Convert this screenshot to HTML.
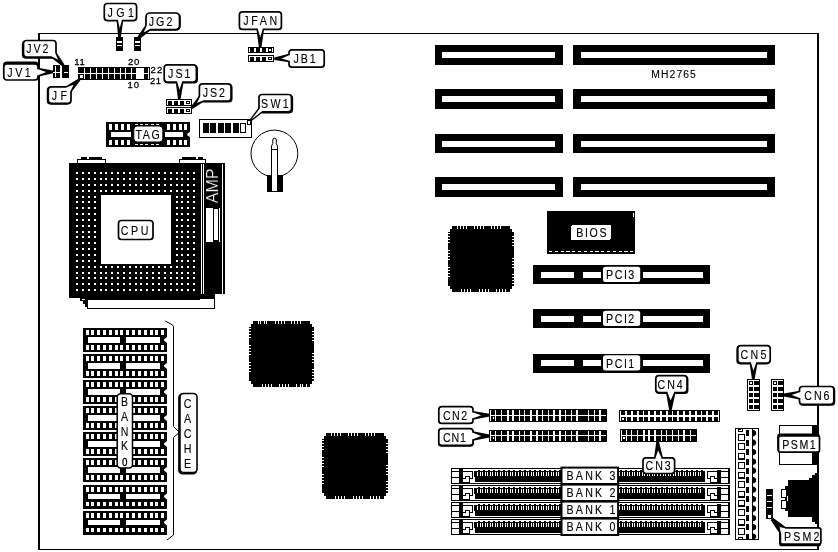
<!DOCTYPE html>
<html><head><meta charset="utf-8"><title>MH2765</title>
<style>
html,body{margin:0;padding:0;background:#fff;}
body{width:838px;height:552px;overflow:hidden;}
svg{display:block;will-change:transform;font-family:"Liberation Sans",sans-serif;}
</style></head><body>
<svg width="838" height="552" viewBox="0 0 838 552" shape-rendering="crispEdges">
<rect x="0" y="0" width="838" height="552" fill="#fff"/>
<rect x="38" y="33" width="781" height="517" fill="#000" />
<rect x="40" y="34" width="777" height="515" fill="#fff" />
<rect x="435" y="45" width="128" height="20" fill="#000" />
<rect x="442" y="52" width="113" height="6" fill="#fff" />
<rect x="573" y="45" width="202" height="20" fill="#000" />
<rect x="581" y="52" width="186" height="6" fill="#fff" />
<rect x="435" y="89" width="128" height="20" fill="#000" />
<rect x="442" y="96" width="113" height="6" fill="#fff" />
<rect x="573" y="89" width="202" height="20" fill="#000" />
<rect x="581" y="96" width="186" height="6" fill="#fff" />
<rect x="435" y="134" width="128" height="19" fill="#000" />
<rect x="442" y="141" width="113" height="6" fill="#fff" />
<rect x="573" y="134" width="202" height="19" fill="#000" />
<rect x="581" y="141" width="186" height="6" fill="#fff" />
<rect x="435" y="177" width="128" height="20" fill="#000" />
<rect x="442" y="184" width="113" height="6" fill="#fff" />
<rect x="573" y="177" width="202" height="20" fill="#000" />
<rect x="581" y="184" width="186" height="6" fill="#fff" />
<text transform="translate(673.6,78.1) scale(0.9,1)" font-size="11.5" text-anchor="middle" textLength="49.44" lengthAdjust="spacing" fill="#000" stroke="#000" stroke-width="0.12" >MH2765</text>
<rect x="533" y="265" width="177" height="19" fill="#000" />
<rect x="541" y="271.5" width="33" height="6" fill="#fff" />
<rect x="583" y="271.5" width="17.6" height="6" fill="#fff" />
<rect x="643" y="271.5" width="60" height="6" fill="#fff" />
<rect x="603" y="266.8" width="37.2" height="15.2" fill="#fff" rx="2.5" shape-rendering="geometricPrecision"/>
<text transform="translate(620.2,279.1) scale(0.82,1)" font-size="13" text-anchor="middle" textLength="34.39" lengthAdjust="spacing" fill="#000" stroke="#000" stroke-width="0.12" >PCI3</text>
<rect x="533" y="309" width="177" height="19" fill="#000" />
<rect x="541" y="315.5" width="33" height="6" fill="#fff" />
<rect x="583" y="315.5" width="17.6" height="6" fill="#fff" />
<rect x="643" y="315.5" width="60" height="6" fill="#fff" />
<rect x="603" y="310.8" width="37.2" height="15.2" fill="#fff" rx="2.5" shape-rendering="geometricPrecision"/>
<text transform="translate(620.2,323.1) scale(0.82,1)" font-size="13" text-anchor="middle" textLength="34.39" lengthAdjust="spacing" fill="#000" stroke="#000" stroke-width="0.12" >PCI2</text>
<rect x="533" y="353.5" width="177" height="19" fill="#000" />
<rect x="541" y="360.0" width="33" height="6" fill="#fff" />
<rect x="583" y="360.0" width="17.6" height="6" fill="#fff" />
<rect x="643" y="360.0" width="60" height="6" fill="#fff" />
<rect x="603" y="355.3" width="37.2" height="15.2" fill="#fff" rx="2.5" shape-rendering="geometricPrecision"/>
<text transform="translate(620.2,367.6) scale(0.82,1)" font-size="13" text-anchor="middle" textLength="34.39" lengthAdjust="spacing" fill="#000" stroke="#000" stroke-width="0.12" >PCI1</text>
<rect x="547" y="211" width="88" height="43" fill="#000" />
<line x1="549" y1="251.5" x2="634" y2="251.5" stroke="#fff" stroke-width="1" stroke-dasharray="3.2,2.6"/>
<rect x="633" y="213" width="1" height="4" fill="#fff" />
<rect x="571" y="225" width="40" height="15" fill="#fff" rx="2" />
<text transform="translate(591.4,237.1) scale(0.82,1)" font-size="13" text-anchor="middle" textLength="37.20" lengthAdjust="spacing" fill="#000" stroke="#000" stroke-width="0.12" >BIOS</text>
<polygon points="452,226 510,226 510,229 512,229 512,232 514,232 514,286 512,286 512,289 510,289 510,292 452,292 452,289 450,289 450,286 448,286 448,232 450,232 450,229 452,229" fill="#000" />
<rect x="457" y="226" width="1" height="3" fill="#fff" />
<rect x="460" y="226" width="1" height="3" fill="#fff" />
<rect x="463" y="226" width="1" height="3" fill="#fff" />
<rect x="466" y="226" width="1" height="3" fill="#fff" />
<rect x="474" y="226" width="1" height="3" fill="#fff" />
<rect x="477" y="226" width="1" height="3" fill="#fff" />
<rect x="480" y="226" width="1" height="3" fill="#fff" />
<rect x="483" y="226" width="1" height="3" fill="#fff" />
<rect x="491" y="226" width="1" height="3" fill="#fff" />
<rect x="494" y="226" width="1" height="3" fill="#fff" />
<rect x="497" y="226" width="1" height="3" fill="#fff" />
<rect x="500" y="226" width="1" height="3" fill="#fff" />
<rect x="461" y="289" width="1" height="3" fill="#fff" />
<rect x="464" y="289" width="1" height="3" fill="#fff" />
<rect x="467" y="289" width="1" height="3" fill="#fff" />
<rect x="470" y="289" width="1" height="3" fill="#fff" />
<rect x="479" y="289" width="1" height="3" fill="#fff" />
<rect x="482" y="289" width="1" height="3" fill="#fff" />
<rect x="485" y="289" width="1" height="3" fill="#fff" />
<rect x="488" y="289" width="1" height="3" fill="#fff" />
<rect x="496" y="289" width="1" height="3" fill="#fff" />
<rect x="499" y="289" width="1" height="3" fill="#fff" />
<rect x="502" y="289" width="1" height="3" fill="#fff" />
<rect x="505" y="289" width="1" height="3" fill="#fff" />
<rect x="448" y="233" width="2" height="1" fill="#fff" />
<rect x="448" y="236" width="2" height="1" fill="#fff" />
<rect x="448" y="239" width="2" height="1" fill="#fff" />
<rect x="448" y="242" width="2" height="1" fill="#fff" />
<rect x="448" y="250" width="2" height="1" fill="#fff" />
<rect x="448" y="253" width="2" height="1" fill="#fff" />
<rect x="448" y="256" width="2" height="1" fill="#fff" />
<rect x="448" y="259" width="2" height="1" fill="#fff" />
<rect x="448" y="267" width="2" height="1" fill="#fff" />
<rect x="448" y="270" width="2" height="1" fill="#fff" />
<rect x="448" y="273" width="2" height="1" fill="#fff" />
<rect x="448" y="276" width="2" height="1" fill="#fff" />
<rect x="512" y="236" width="2" height="1" fill="#fff" />
<rect x="512" y="239" width="2" height="1" fill="#fff" />
<rect x="512" y="242" width="2" height="1" fill="#fff" />
<rect x="512" y="245" width="2" height="1" fill="#fff" />
<rect x="512" y="258" width="2" height="1" fill="#fff" />
<rect x="512" y="261" width="2" height="1" fill="#fff" />
<rect x="512" y="264" width="2" height="1" fill="#fff" />
<rect x="512" y="267" width="2" height="1" fill="#fff" />
<rect x="512" y="274" width="2" height="1" fill="#fff" />
<rect x="512" y="277" width="2" height="1" fill="#fff" />
<rect x="512" y="280" width="2" height="1" fill="#fff" />
<rect x="512" y="283" width="2" height="1" fill="#fff" />
<polygon points="253,321 310,321 310,324 312,324 312,327 314,327 314,381 312,381 312,384 310,384 310,387 253,387 253,384 251,384 251,381 249,381 249,327 251,327 251,324 253,324" fill="#000" />
<rect x="258" y="321" width="1" height="3" fill="#fff" />
<rect x="260" y="321" width="1" height="3" fill="#fff" />
<rect x="264" y="321" width="1" height="3" fill="#fff" />
<rect x="266" y="321" width="1" height="3" fill="#fff" />
<rect x="275" y="321" width="1" height="3" fill="#fff" />
<rect x="278" y="321" width="1" height="3" fill="#fff" />
<rect x="281" y="321" width="1" height="3" fill="#fff" />
<rect x="284" y="321" width="1" height="3" fill="#fff" />
<rect x="291" y="321" width="1" height="3" fill="#fff" />
<rect x="294" y="321" width="1" height="3" fill="#fff" />
<rect x="297" y="321" width="1" height="3" fill="#fff" />
<rect x="300" y="321" width="1" height="3" fill="#fff" />
<rect x="262" y="384" width="1" height="3" fill="#fff" />
<rect x="265" y="384" width="1" height="3" fill="#fff" />
<rect x="268" y="384" width="1" height="3" fill="#fff" />
<rect x="271" y="384" width="1" height="3" fill="#fff" />
<rect x="279" y="384" width="1" height="3" fill="#fff" />
<rect x="282" y="384" width="1" height="3" fill="#fff" />
<rect x="285" y="384" width="1" height="3" fill="#fff" />
<rect x="288" y="384" width="1" height="3" fill="#fff" />
<rect x="296" y="384" width="1" height="3" fill="#fff" />
<rect x="300" y="384" width="1" height="3" fill="#fff" />
<rect x="302" y="384" width="1" height="3" fill="#fff" />
<rect x="306" y="384" width="1" height="3" fill="#fff" />
<rect x="249" y="328" width="2" height="1" fill="#fff" />
<rect x="249" y="331" width="2" height="1" fill="#fff" />
<rect x="249" y="334" width="2" height="1" fill="#fff" />
<rect x="249" y="337" width="2" height="1" fill="#fff" />
<rect x="249" y="345" width="2" height="1" fill="#fff" />
<rect x="249" y="348" width="2" height="1" fill="#fff" />
<rect x="249" y="351" width="2" height="1" fill="#fff" />
<rect x="249" y="354" width="2" height="1" fill="#fff" />
<rect x="249" y="362" width="2" height="1" fill="#fff" />
<rect x="249" y="365" width="2" height="1" fill="#fff" />
<rect x="249" y="368" width="2" height="1" fill="#fff" />
<rect x="249" y="371" width="2" height="1" fill="#fff" />
<rect x="312" y="331" width="2" height="1" fill="#fff" />
<rect x="312" y="334" width="2" height="1" fill="#fff" />
<rect x="312" y="337" width="2" height="1" fill="#fff" />
<rect x="312" y="340" width="2" height="1" fill="#fff" />
<rect x="312" y="353" width="2" height="1" fill="#fff" />
<rect x="312" y="356" width="2" height="1" fill="#fff" />
<rect x="312" y="359" width="2" height="1" fill="#fff" />
<rect x="312" y="362" width="2" height="1" fill="#fff" />
<rect x="312" y="369" width="2" height="1" fill="#fff" />
<rect x="312" y="372" width="2" height="1" fill="#fff" />
<rect x="312" y="375" width="2" height="1" fill="#fff" />
<rect x="312" y="378" width="2" height="1" fill="#fff" />
<polygon points="326,433 384,433 384,436 386,436 386,439 388,439 388,493 386,493 386,496 384,496 384,499 326,499 326,496 324,496 324,493 322,493 322,439 324,439 324,436 326,436" fill="#000" />
<rect x="331" y="433" width="1" height="3" fill="#fff" />
<rect x="334" y="433" width="1" height="3" fill="#fff" />
<rect x="337" y="433" width="1" height="3" fill="#fff" />
<rect x="340" y="433" width="1" height="3" fill="#fff" />
<rect x="348" y="433" width="1" height="3" fill="#fff" />
<rect x="351" y="433" width="1" height="3" fill="#fff" />
<rect x="354" y="433" width="1" height="3" fill="#fff" />
<rect x="357" y="433" width="1" height="3" fill="#fff" />
<rect x="365" y="433" width="1" height="3" fill="#fff" />
<rect x="368" y="433" width="1" height="3" fill="#fff" />
<rect x="371" y="433" width="1" height="3" fill="#fff" />
<rect x="374" y="433" width="1" height="3" fill="#fff" />
<rect x="335" y="496" width="1" height="3" fill="#fff" />
<rect x="338" y="496" width="1" height="3" fill="#fff" />
<rect x="341" y="496" width="1" height="3" fill="#fff" />
<rect x="344" y="496" width="1" height="3" fill="#fff" />
<rect x="353" y="496" width="1" height="3" fill="#fff" />
<rect x="356" y="496" width="1" height="3" fill="#fff" />
<rect x="359" y="496" width="1" height="3" fill="#fff" />
<rect x="362" y="496" width="1" height="3" fill="#fff" />
<rect x="370" y="496" width="1" height="3" fill="#fff" />
<rect x="373" y="496" width="1" height="3" fill="#fff" />
<rect x="376" y="496" width="1" height="3" fill="#fff" />
<rect x="379" y="496" width="1" height="3" fill="#fff" />
<rect x="322" y="440" width="2" height="1" fill="#fff" />
<rect x="322" y="443" width="2" height="1" fill="#fff" />
<rect x="322" y="446" width="2" height="1" fill="#fff" />
<rect x="322" y="449" width="2" height="1" fill="#fff" />
<rect x="322" y="457" width="2" height="1" fill="#fff" />
<rect x="322" y="460" width="2" height="1" fill="#fff" />
<rect x="322" y="463" width="2" height="1" fill="#fff" />
<rect x="322" y="466" width="2" height="1" fill="#fff" />
<rect x="322" y="474" width="2" height="1" fill="#fff" />
<rect x="322" y="477" width="2" height="1" fill="#fff" />
<rect x="322" y="480" width="2" height="1" fill="#fff" />
<rect x="322" y="483" width="2" height="1" fill="#fff" />
<rect x="386" y="443" width="2" height="1" fill="#fff" />
<rect x="386" y="446" width="2" height="1" fill="#fff" />
<rect x="386" y="449" width="2" height="1" fill="#fff" />
<rect x="386" y="452" width="2" height="1" fill="#fff" />
<rect x="386" y="465" width="2" height="1" fill="#fff" />
<rect x="386" y="468" width="2" height="1" fill="#fff" />
<rect x="386" y="471" width="2" height="1" fill="#fff" />
<rect x="386" y="474" width="2" height="1" fill="#fff" />
<rect x="386" y="481" width="2" height="1" fill="#fff" />
<rect x="386" y="484" width="2" height="1" fill="#fff" />
<rect x="386" y="487" width="2" height="1" fill="#fff" />
<rect x="386" y="490" width="2" height="1" fill="#fff" />
<rect x="77.5" y="159.5" width="28" height="4" fill="#fff" stroke="#000" stroke-width="1" />
<rect x="80.5" y="157" width="6.5" height="2" fill="#000" />
<rect x="89" y="157" width="13" height="2" fill="#000" />
<rect x="179.5" y="159.5" width="26" height="4" fill="#fff" stroke="#000" stroke-width="1" />
<rect x="181.5" y="157" width="14" height="2" fill="#000" />
<rect x="197.5" y="157" width="5.5" height="2" fill="#000" />
<rect x="69" y="163" width="131" height="135" fill="#000" />
<rect x="200" y="163" width="24.5" height="131" fill="#000" />
<rect x="200.5" y="164" width="1" height="130" fill="#fff" />
<rect x="203" y="164" width="1" height="130" fill="#fff" />
<rect x="222" y="164" width="1" height="130" fill="#fff" />
<rect x="101" y="195" width="70" height="69" fill="#fff" />
<rect x="76.0" y="172.0" width="2.3" height="2.3" fill="#fff" />
<rect x="82.0" y="172.0" width="2.3" height="2.3" fill="#fff" />
<rect x="87.5" y="172.0" width="2.3" height="2.3" fill="#fff" />
<rect x="93.5" y="172.0" width="2.3" height="2.3" fill="#fff" />
<rect x="99.5" y="172.0" width="2.3" height="2.3" fill="#fff" />
<rect x="105.0" y="172.0" width="2.3" height="2.3" fill="#fff" />
<rect x="111.0" y="172.0" width="2.3" height="2.3" fill="#fff" />
<rect x="117.0" y="172.0" width="2.3" height="2.3" fill="#fff" />
<rect x="122.5" y="172.0" width="2.3" height="2.3" fill="#fff" />
<rect x="128.5" y="172.0" width="2.3" height="2.3" fill="#fff" />
<rect x="134.5" y="172.0" width="2.3" height="2.3" fill="#fff" />
<rect x="140.0" y="172.0" width="2.3" height="2.3" fill="#fff" />
<rect x="146.0" y="172.0" width="2.3" height="2.3" fill="#fff" />
<rect x="152.0" y="172.0" width="2.3" height="2.3" fill="#fff" />
<rect x="158.0" y="172.0" width="2.3" height="2.3" fill="#fff" />
<rect x="163.5" y="172.0" width="2.3" height="2.3" fill="#fff" />
<rect x="169.5" y="172.0" width="2.3" height="2.3" fill="#fff" />
<rect x="175.5" y="172.0" width="2.3" height="2.3" fill="#fff" />
<rect x="181.0" y="172.0" width="2.3" height="2.3" fill="#fff" />
<rect x="187.0" y="172.0" width="2.3" height="2.3" fill="#fff" />
<rect x="193.0" y="172.0" width="2.3" height="2.3" fill="#fff" />
<rect x="76.0" y="178.0" width="2.3" height="2.3" fill="#fff" />
<rect x="82.0" y="178.0" width="2.3" height="2.3" fill="#fff" />
<rect x="87.5" y="178.0" width="2.3" height="2.3" fill="#fff" />
<rect x="93.5" y="178.0" width="2.3" height="2.3" fill="#fff" />
<rect x="99.5" y="178.0" width="2.3" height="2.3" fill="#fff" />
<rect x="105.0" y="178.0" width="2.3" height="2.3" fill="#fff" />
<rect x="111.0" y="178.0" width="2.3" height="2.3" fill="#fff" />
<rect x="117.0" y="178.0" width="2.3" height="2.3" fill="#fff" />
<rect x="122.5" y="178.0" width="2.3" height="2.3" fill="#fff" />
<rect x="128.5" y="178.0" width="2.3" height="2.3" fill="#fff" />
<rect x="134.5" y="178.0" width="2.3" height="2.3" fill="#fff" />
<rect x="140.0" y="178.0" width="2.3" height="2.3" fill="#fff" />
<rect x="146.0" y="178.0" width="2.3" height="2.3" fill="#fff" />
<rect x="152.0" y="178.0" width="2.3" height="2.3" fill="#fff" />
<rect x="158.0" y="178.0" width="2.3" height="2.3" fill="#fff" />
<rect x="163.5" y="178.0" width="2.3" height="2.3" fill="#fff" />
<rect x="169.5" y="178.0" width="2.3" height="2.3" fill="#fff" />
<rect x="175.5" y="178.0" width="2.3" height="2.3" fill="#fff" />
<rect x="181.0" y="178.0" width="2.3" height="2.3" fill="#fff" />
<rect x="187.0" y="178.0" width="2.3" height="2.3" fill="#fff" />
<rect x="193.0" y="178.0" width="2.3" height="2.3" fill="#fff" />
<rect x="76.0" y="183.5" width="2.3" height="2.3" fill="#fff" />
<rect x="82.0" y="183.5" width="2.3" height="2.3" fill="#fff" />
<rect x="87.5" y="183.5" width="2.3" height="2.3" fill="#fff" />
<rect x="93.5" y="183.5" width="2.3" height="2.3" fill="#fff" />
<rect x="99.5" y="183.5" width="2.3" height="2.3" fill="#fff" />
<rect x="105.0" y="183.5" width="2.3" height="2.3" fill="#fff" />
<rect x="111.0" y="183.5" width="2.3" height="2.3" fill="#fff" />
<rect x="117.0" y="183.5" width="2.3" height="2.3" fill="#fff" />
<rect x="122.5" y="183.5" width="2.3" height="2.3" fill="#fff" />
<rect x="128.5" y="183.5" width="2.3" height="2.3" fill="#fff" />
<rect x="134.5" y="183.5" width="2.3" height="2.3" fill="#fff" />
<rect x="140.0" y="183.5" width="2.3" height="2.3" fill="#fff" />
<rect x="146.0" y="183.5" width="2.3" height="2.3" fill="#fff" />
<rect x="152.0" y="183.5" width="2.3" height="2.3" fill="#fff" />
<rect x="158.0" y="183.5" width="2.3" height="2.3" fill="#fff" />
<rect x="163.5" y="183.5" width="2.3" height="2.3" fill="#fff" />
<rect x="169.5" y="183.5" width="2.3" height="2.3" fill="#fff" />
<rect x="175.5" y="183.5" width="2.3" height="2.3" fill="#fff" />
<rect x="181.0" y="183.5" width="2.3" height="2.3" fill="#fff" />
<rect x="187.0" y="183.5" width="2.3" height="2.3" fill="#fff" />
<rect x="193.0" y="183.5" width="2.3" height="2.3" fill="#fff" />
<rect x="76.0" y="189.5" width="2.3" height="2.3" fill="#fff" />
<rect x="82.0" y="189.5" width="2.3" height="2.3" fill="#fff" />
<rect x="87.5" y="189.5" width="2.3" height="2.3" fill="#fff" />
<rect x="93.5" y="189.5" width="2.3" height="2.3" fill="#fff" />
<rect x="99.5" y="189.5" width="2.3" height="2.3" fill="#fff" />
<rect x="105.0" y="189.5" width="2.3" height="2.3" fill="#fff" />
<rect x="111.0" y="189.5" width="2.3" height="2.3" fill="#fff" />
<rect x="117.0" y="189.5" width="2.3" height="2.3" fill="#fff" />
<rect x="122.5" y="189.5" width="2.3" height="2.3" fill="#fff" />
<rect x="128.5" y="189.5" width="2.3" height="2.3" fill="#fff" />
<rect x="134.5" y="189.5" width="2.3" height="2.3" fill="#fff" />
<rect x="140.0" y="189.5" width="2.3" height="2.3" fill="#fff" />
<rect x="146.0" y="189.5" width="2.3" height="2.3" fill="#fff" />
<rect x="152.0" y="189.5" width="2.3" height="2.3" fill="#fff" />
<rect x="158.0" y="189.5" width="2.3" height="2.3" fill="#fff" />
<rect x="163.5" y="189.5" width="2.3" height="2.3" fill="#fff" />
<rect x="169.5" y="189.5" width="2.3" height="2.3" fill="#fff" />
<rect x="175.5" y="189.5" width="2.3" height="2.3" fill="#fff" />
<rect x="181.0" y="189.5" width="2.3" height="2.3" fill="#fff" />
<rect x="187.0" y="189.5" width="2.3" height="2.3" fill="#fff" />
<rect x="193.0" y="189.5" width="2.3" height="2.3" fill="#fff" />
<rect x="76.0" y="195.5" width="2.3" height="2.3" fill="#fff" />
<rect x="82.0" y="195.5" width="2.3" height="2.3" fill="#fff" />
<rect x="87.5" y="195.5" width="2.3" height="2.3" fill="#fff" />
<rect x="93.5" y="195.5" width="2.3" height="2.3" fill="#fff" />
<rect x="175.5" y="195.5" width="2.3" height="2.3" fill="#fff" />
<rect x="181.0" y="195.5" width="2.3" height="2.3" fill="#fff" />
<rect x="187.0" y="195.5" width="2.3" height="2.3" fill="#fff" />
<rect x="193.0" y="195.5" width="2.3" height="2.3" fill="#fff" />
<rect x="76.0" y="201.0" width="2.3" height="2.3" fill="#fff" />
<rect x="82.0" y="201.0" width="2.3" height="2.3" fill="#fff" />
<rect x="87.5" y="201.0" width="2.3" height="2.3" fill="#fff" />
<rect x="93.5" y="201.0" width="2.3" height="2.3" fill="#fff" />
<rect x="175.5" y="201.0" width="2.3" height="2.3" fill="#fff" />
<rect x="181.0" y="201.0" width="2.3" height="2.3" fill="#fff" />
<rect x="187.0" y="201.0" width="2.3" height="2.3" fill="#fff" />
<rect x="193.0" y="201.0" width="2.3" height="2.3" fill="#fff" />
<rect x="76.0" y="207.0" width="2.3" height="2.3" fill="#fff" />
<rect x="82.0" y="207.0" width="2.3" height="2.3" fill="#fff" />
<rect x="87.5" y="207.0" width="2.3" height="2.3" fill="#fff" />
<rect x="93.5" y="207.0" width="2.3" height="2.3" fill="#fff" />
<rect x="175.5" y="207.0" width="2.3" height="2.3" fill="#fff" />
<rect x="181.0" y="207.0" width="2.3" height="2.3" fill="#fff" />
<rect x="187.0" y="207.0" width="2.3" height="2.3" fill="#fff" />
<rect x="193.0" y="207.0" width="2.3" height="2.3" fill="#fff" />
<rect x="76.0" y="213.0" width="2.3" height="2.3" fill="#fff" />
<rect x="82.0" y="213.0" width="2.3" height="2.3" fill="#fff" />
<rect x="87.5" y="213.0" width="2.3" height="2.3" fill="#fff" />
<rect x="93.5" y="213.0" width="2.3" height="2.3" fill="#fff" />
<rect x="175.5" y="213.0" width="2.3" height="2.3" fill="#fff" />
<rect x="181.0" y="213.0" width="2.3" height="2.3" fill="#fff" />
<rect x="187.0" y="213.0" width="2.3" height="2.3" fill="#fff" />
<rect x="193.0" y="213.0" width="2.3" height="2.3" fill="#fff" />
<rect x="76.0" y="218.5" width="2.3" height="2.3" fill="#fff" />
<rect x="82.0" y="218.5" width="2.3" height="2.3" fill="#fff" />
<rect x="87.5" y="218.5" width="2.3" height="2.3" fill="#fff" />
<rect x="93.5" y="218.5" width="2.3" height="2.3" fill="#fff" />
<rect x="175.5" y="218.5" width="2.3" height="2.3" fill="#fff" />
<rect x="181.0" y="218.5" width="2.3" height="2.3" fill="#fff" />
<rect x="187.0" y="218.5" width="2.3" height="2.3" fill="#fff" />
<rect x="193.0" y="218.5" width="2.3" height="2.3" fill="#fff" />
<rect x="76.0" y="224.5" width="2.3" height="2.3" fill="#fff" />
<rect x="82.0" y="224.5" width="2.3" height="2.3" fill="#fff" />
<rect x="87.5" y="224.5" width="2.3" height="2.3" fill="#fff" />
<rect x="93.5" y="224.5" width="2.3" height="2.3" fill="#fff" />
<rect x="175.5" y="224.5" width="2.3" height="2.3" fill="#fff" />
<rect x="181.0" y="224.5" width="2.3" height="2.3" fill="#fff" />
<rect x="187.0" y="224.5" width="2.3" height="2.3" fill="#fff" />
<rect x="193.0" y="224.5" width="2.3" height="2.3" fill="#fff" />
<rect x="76.0" y="230.5" width="2.3" height="2.3" fill="#fff" />
<rect x="82.0" y="230.5" width="2.3" height="2.3" fill="#fff" />
<rect x="87.5" y="230.5" width="2.3" height="2.3" fill="#fff" />
<rect x="93.5" y="230.5" width="2.3" height="2.3" fill="#fff" />
<rect x="175.5" y="230.5" width="2.3" height="2.3" fill="#fff" />
<rect x="181.0" y="230.5" width="2.3" height="2.3" fill="#fff" />
<rect x="187.0" y="230.5" width="2.3" height="2.3" fill="#fff" />
<rect x="193.0" y="230.5" width="2.3" height="2.3" fill="#fff" />
<rect x="76.0" y="236.0" width="2.3" height="2.3" fill="#fff" />
<rect x="82.0" y="236.0" width="2.3" height="2.3" fill="#fff" />
<rect x="87.5" y="236.0" width="2.3" height="2.3" fill="#fff" />
<rect x="93.5" y="236.0" width="2.3" height="2.3" fill="#fff" />
<rect x="175.5" y="236.0" width="2.3" height="2.3" fill="#fff" />
<rect x="181.0" y="236.0" width="2.3" height="2.3" fill="#fff" />
<rect x="187.0" y="236.0" width="2.3" height="2.3" fill="#fff" />
<rect x="193.0" y="236.0" width="2.3" height="2.3" fill="#fff" />
<rect x="76.0" y="242.0" width="2.3" height="2.3" fill="#fff" />
<rect x="82.0" y="242.0" width="2.3" height="2.3" fill="#fff" />
<rect x="87.5" y="242.0" width="2.3" height="2.3" fill="#fff" />
<rect x="93.5" y="242.0" width="2.3" height="2.3" fill="#fff" />
<rect x="175.5" y="242.0" width="2.3" height="2.3" fill="#fff" />
<rect x="181.0" y="242.0" width="2.3" height="2.3" fill="#fff" />
<rect x="187.0" y="242.0" width="2.3" height="2.3" fill="#fff" />
<rect x="193.0" y="242.0" width="2.3" height="2.3" fill="#fff" />
<rect x="76.0" y="248.0" width="2.3" height="2.3" fill="#fff" />
<rect x="82.0" y="248.0" width="2.3" height="2.3" fill="#fff" />
<rect x="87.5" y="248.0" width="2.3" height="2.3" fill="#fff" />
<rect x="93.5" y="248.0" width="2.3" height="2.3" fill="#fff" />
<rect x="175.5" y="248.0" width="2.3" height="2.3" fill="#fff" />
<rect x="181.0" y="248.0" width="2.3" height="2.3" fill="#fff" />
<rect x="187.0" y="248.0" width="2.3" height="2.3" fill="#fff" />
<rect x="193.0" y="248.0" width="2.3" height="2.3" fill="#fff" />
<rect x="76.0" y="254.0" width="2.3" height="2.3" fill="#fff" />
<rect x="82.0" y="254.0" width="2.3" height="2.3" fill="#fff" />
<rect x="87.5" y="254.0" width="2.3" height="2.3" fill="#fff" />
<rect x="93.5" y="254.0" width="2.3" height="2.3" fill="#fff" />
<rect x="175.5" y="254.0" width="2.3" height="2.3" fill="#fff" />
<rect x="181.0" y="254.0" width="2.3" height="2.3" fill="#fff" />
<rect x="187.0" y="254.0" width="2.3" height="2.3" fill="#fff" />
<rect x="193.0" y="254.0" width="2.3" height="2.3" fill="#fff" />
<rect x="76.0" y="259.5" width="2.3" height="2.3" fill="#fff" />
<rect x="82.0" y="259.5" width="2.3" height="2.3" fill="#fff" />
<rect x="87.5" y="259.5" width="2.3" height="2.3" fill="#fff" />
<rect x="93.5" y="259.5" width="2.3" height="2.3" fill="#fff" />
<rect x="175.5" y="259.5" width="2.3" height="2.3" fill="#fff" />
<rect x="181.0" y="259.5" width="2.3" height="2.3" fill="#fff" />
<rect x="187.0" y="259.5" width="2.3" height="2.3" fill="#fff" />
<rect x="193.0" y="259.5" width="2.3" height="2.3" fill="#fff" />
<rect x="76.0" y="265.5" width="2.3" height="2.3" fill="#fff" />
<rect x="82.0" y="265.5" width="2.3" height="2.3" fill="#fff" />
<rect x="87.5" y="265.5" width="2.3" height="2.3" fill="#fff" />
<rect x="93.5" y="265.5" width="2.3" height="2.3" fill="#fff" />
<rect x="99.5" y="265.5" width="2.3" height="2.3" fill="#fff" />
<rect x="105.0" y="265.5" width="2.3" height="2.3" fill="#fff" />
<rect x="111.0" y="265.5" width="2.3" height="2.3" fill="#fff" />
<rect x="117.0" y="265.5" width="2.3" height="2.3" fill="#fff" />
<rect x="122.5" y="265.5" width="2.3" height="2.3" fill="#fff" />
<rect x="128.5" y="265.5" width="2.3" height="2.3" fill="#fff" />
<rect x="134.5" y="265.5" width="2.3" height="2.3" fill="#fff" />
<rect x="140.0" y="265.5" width="2.3" height="2.3" fill="#fff" />
<rect x="146.0" y="265.5" width="2.3" height="2.3" fill="#fff" />
<rect x="152.0" y="265.5" width="2.3" height="2.3" fill="#fff" />
<rect x="158.0" y="265.5" width="2.3" height="2.3" fill="#fff" />
<rect x="163.5" y="265.5" width="2.3" height="2.3" fill="#fff" />
<rect x="169.5" y="265.5" width="2.3" height="2.3" fill="#fff" />
<rect x="175.5" y="265.5" width="2.3" height="2.3" fill="#fff" />
<rect x="181.0" y="265.5" width="2.3" height="2.3" fill="#fff" />
<rect x="187.0" y="265.5" width="2.3" height="2.3" fill="#fff" />
<rect x="193.0" y="265.5" width="2.3" height="2.3" fill="#fff" />
<rect x="76.0" y="271.5" width="2.3" height="2.3" fill="#fff" />
<rect x="82.0" y="271.5" width="2.3" height="2.3" fill="#fff" />
<rect x="87.5" y="271.5" width="2.3" height="2.3" fill="#fff" />
<rect x="93.5" y="271.5" width="2.3" height="2.3" fill="#fff" />
<rect x="99.5" y="271.5" width="2.3" height="2.3" fill="#fff" />
<rect x="105.0" y="271.5" width="2.3" height="2.3" fill="#fff" />
<rect x="111.0" y="271.5" width="2.3" height="2.3" fill="#fff" />
<rect x="117.0" y="271.5" width="2.3" height="2.3" fill="#fff" />
<rect x="122.5" y="271.5" width="2.3" height="2.3" fill="#fff" />
<rect x="128.5" y="271.5" width="2.3" height="2.3" fill="#fff" />
<rect x="134.5" y="271.5" width="2.3" height="2.3" fill="#fff" />
<rect x="140.0" y="271.5" width="2.3" height="2.3" fill="#fff" />
<rect x="146.0" y="271.5" width="2.3" height="2.3" fill="#fff" />
<rect x="152.0" y="271.5" width="2.3" height="2.3" fill="#fff" />
<rect x="158.0" y="271.5" width="2.3" height="2.3" fill="#fff" />
<rect x="163.5" y="271.5" width="2.3" height="2.3" fill="#fff" />
<rect x="169.5" y="271.5" width="2.3" height="2.3" fill="#fff" />
<rect x="175.5" y="271.5" width="2.3" height="2.3" fill="#fff" />
<rect x="181.0" y="271.5" width="2.3" height="2.3" fill="#fff" />
<rect x="187.0" y="271.5" width="2.3" height="2.3" fill="#fff" />
<rect x="193.0" y="271.5" width="2.3" height="2.3" fill="#fff" />
<rect x="76.0" y="277.0" width="2.3" height="2.3" fill="#fff" />
<rect x="82.0" y="277.0" width="2.3" height="2.3" fill="#fff" />
<rect x="87.5" y="277.0" width="2.3" height="2.3" fill="#fff" />
<rect x="93.5" y="277.0" width="2.3" height="2.3" fill="#fff" />
<rect x="99.5" y="277.0" width="2.3" height="2.3" fill="#fff" />
<rect x="105.0" y="277.0" width="2.3" height="2.3" fill="#fff" />
<rect x="111.0" y="277.0" width="2.3" height="2.3" fill="#fff" />
<rect x="117.0" y="277.0" width="2.3" height="2.3" fill="#fff" />
<rect x="122.5" y="277.0" width="2.3" height="2.3" fill="#fff" />
<rect x="128.5" y="277.0" width="2.3" height="2.3" fill="#fff" />
<rect x="134.5" y="277.0" width="2.3" height="2.3" fill="#fff" />
<rect x="140.0" y="277.0" width="2.3" height="2.3" fill="#fff" />
<rect x="146.0" y="277.0" width="2.3" height="2.3" fill="#fff" />
<rect x="152.0" y="277.0" width="2.3" height="2.3" fill="#fff" />
<rect x="158.0" y="277.0" width="2.3" height="2.3" fill="#fff" />
<rect x="163.5" y="277.0" width="2.3" height="2.3" fill="#fff" />
<rect x="169.5" y="277.0" width="2.3" height="2.3" fill="#fff" />
<rect x="175.5" y="277.0" width="2.3" height="2.3" fill="#fff" />
<rect x="181.0" y="277.0" width="2.3" height="2.3" fill="#fff" />
<rect x="187.0" y="277.0" width="2.3" height="2.3" fill="#fff" />
<rect x="193.0" y="277.0" width="2.3" height="2.3" fill="#fff" />
<rect x="76.0" y="283.0" width="2.3" height="2.3" fill="#fff" />
<rect x="82.0" y="283.0" width="2.3" height="2.3" fill="#fff" />
<rect x="87.5" y="283.0" width="2.3" height="2.3" fill="#fff" />
<rect x="93.5" y="283.0" width="2.3" height="2.3" fill="#fff" />
<rect x="99.5" y="283.0" width="2.3" height="2.3" fill="#fff" />
<rect x="105.0" y="283.0" width="2.3" height="2.3" fill="#fff" />
<rect x="111.0" y="283.0" width="2.3" height="2.3" fill="#fff" />
<rect x="117.0" y="283.0" width="2.3" height="2.3" fill="#fff" />
<rect x="122.5" y="283.0" width="2.3" height="2.3" fill="#fff" />
<rect x="128.5" y="283.0" width="2.3" height="2.3" fill="#fff" />
<rect x="134.5" y="283.0" width="2.3" height="2.3" fill="#fff" />
<rect x="140.0" y="283.0" width="2.3" height="2.3" fill="#fff" />
<rect x="146.0" y="283.0" width="2.3" height="2.3" fill="#fff" />
<rect x="152.0" y="283.0" width="2.3" height="2.3" fill="#fff" />
<rect x="158.0" y="283.0" width="2.3" height="2.3" fill="#fff" />
<rect x="163.5" y="283.0" width="2.3" height="2.3" fill="#fff" />
<rect x="169.5" y="283.0" width="2.3" height="2.3" fill="#fff" />
<rect x="175.5" y="283.0" width="2.3" height="2.3" fill="#fff" />
<rect x="181.0" y="283.0" width="2.3" height="2.3" fill="#fff" />
<rect x="187.0" y="283.0" width="2.3" height="2.3" fill="#fff" />
<rect x="193.0" y="283.0" width="2.3" height="2.3" fill="#fff" />
<rect x="76.0" y="289.0" width="2.3" height="2.3" fill="#fff" />
<rect x="82.0" y="289.0" width="2.3" height="2.3" fill="#fff" />
<rect x="87.5" y="289.0" width="2.3" height="2.3" fill="#fff" />
<rect x="93.5" y="289.0" width="2.3" height="2.3" fill="#fff" />
<rect x="99.5" y="289.0" width="2.3" height="2.3" fill="#fff" />
<rect x="105.0" y="289.0" width="2.3" height="2.3" fill="#fff" />
<rect x="111.0" y="289.0" width="2.3" height="2.3" fill="#fff" />
<rect x="117.0" y="289.0" width="2.3" height="2.3" fill="#fff" />
<rect x="122.5" y="289.0" width="2.3" height="2.3" fill="#fff" />
<rect x="128.5" y="289.0" width="2.3" height="2.3" fill="#fff" />
<rect x="134.5" y="289.0" width="2.3" height="2.3" fill="#fff" />
<rect x="140.0" y="289.0" width="2.3" height="2.3" fill="#fff" />
<rect x="146.0" y="289.0" width="2.3" height="2.3" fill="#fff" />
<rect x="152.0" y="289.0" width="2.3" height="2.3" fill="#fff" />
<rect x="158.0" y="289.0" width="2.3" height="2.3" fill="#fff" />
<rect x="163.5" y="289.0" width="2.3" height="2.3" fill="#fff" />
<rect x="169.5" y="289.0" width="2.3" height="2.3" fill="#fff" />
<rect x="175.5" y="289.0" width="2.3" height="2.3" fill="#fff" />
<rect x="181.0" y="289.0" width="2.3" height="2.3" fill="#fff" />
<rect x="187.0" y="289.0" width="2.3" height="2.3" fill="#fff" />
<rect x="193.0" y="289.0" width="2.3" height="2.3" fill="#fff" />
<rect x="87.5" y="298.5" width="127" height="9.5" fill="#fff" stroke="#000" stroke-width="1" />
<rect x="87" y="298" width="113" height="1.5" fill="#000" />
<rect x="199.5" y="294" width="15.5" height="5" fill="#000" />
<polygon points="79.5,298 87.5,298 87.5,307 85,307 85,304 82.5,304 82.5,301 79.5,301" fill="#000" />
<rect x="82" y="299" width="2.5" height="1" fill="#fff" />
<text transform="translate(217.6,203.2) rotate(-90)" font-size="16" fill="#fff" stroke="#000" stroke-width="0.25" letter-spacing="0.15">AMP</text>
<rect x="206" y="208" width="6.5" height="33.5" fill="#fff" />
<rect x="214" y="209.3" width="3.5" height="30.5" fill="#fff" />
<rect x="218.7" y="208" width="1.3" height="33.5" fill="#fff" />
<rect x="118.5" y="220.5" width="34.5" height="19.0" fill="#fff" stroke="#000" stroke-width="1.7" rx="3" shape-rendering="geometricPrecision"/>
<text transform="translate(134.60000000000002,234.68) scale(0.82,1)" font-size="13" text-anchor="middle" textLength="33.90" lengthAdjust="spacing" fill="#000" stroke="#000" stroke-width="0.12" >CPU</text>
<rect x="83" y="328.0" width="83.8" height="24" fill="#000" />
<rect x="85.5" y="330.4" width="3" height="4.6" fill="#fff" />
<rect x="85.5" y="345.0" width="3" height="4.7" fill="#fff" />
<rect x="91.0" y="330.4" width="3" height="4.6" fill="#fff" />
<rect x="91.0" y="345.0" width="3" height="4.7" fill="#fff" />
<rect x="97.0" y="330.4" width="3" height="4.6" fill="#fff" />
<rect x="97.0" y="345.0" width="3" height="4.7" fill="#fff" />
<rect x="103.0" y="330.4" width="3" height="4.6" fill="#fff" />
<rect x="103.0" y="345.0" width="3" height="4.7" fill="#fff" />
<rect x="108.5" y="330.4" width="3" height="4.6" fill="#fff" />
<rect x="108.5" y="345.0" width="3" height="4.7" fill="#fff" />
<rect x="114.5" y="330.4" width="3" height="4.6" fill="#fff" />
<rect x="114.5" y="345.0" width="3" height="4.7" fill="#fff" />
<rect x="120.0" y="330.4" width="3" height="4.6" fill="#fff" />
<rect x="120.0" y="345.0" width="3" height="4.7" fill="#fff" />
<rect x="126.0" y="330.4" width="3" height="4.6" fill="#fff" />
<rect x="126.0" y="345.0" width="3" height="4.7" fill="#fff" />
<rect x="132.0" y="330.4" width="3" height="4.6" fill="#fff" />
<rect x="132.0" y="345.0" width="3" height="4.7" fill="#fff" />
<rect x="137.5" y="330.4" width="3" height="4.6" fill="#fff" />
<rect x="137.5" y="345.0" width="3" height="4.7" fill="#fff" />
<rect x="143.5" y="330.4" width="3" height="4.6" fill="#fff" />
<rect x="143.5" y="345.0" width="3" height="4.7" fill="#fff" />
<rect x="149.5" y="330.4" width="3" height="4.6" fill="#fff" />
<rect x="149.5" y="345.0" width="3" height="4.7" fill="#fff" />
<rect x="155.0" y="330.4" width="3" height="4.6" fill="#fff" />
<rect x="155.0" y="345.0" width="3" height="4.7" fill="#fff" />
<rect x="161.0" y="330.4" width="3" height="4.6" fill="#fff" />
<rect x="161.0" y="345.0" width="3" height="4.7" fill="#fff" />
<rect x="88" y="337.3" width="32" height="5.5" fill="#fff" />
<rect x="126" y="337.3" width="33.5" height="5.5" fill="#fff" />
<path d="M167.0,337.0 L164.0,339.2 L164.0,340.6 L167.0,343.0 Z" fill="#fff" shape-rendering="geometricPrecision"/>
<rect x="83" y="354.0" width="83.8" height="24" fill="#000" />
<rect x="85.5" y="356.4" width="3" height="4.6" fill="#fff" />
<rect x="85.5" y="371.0" width="3" height="4.7" fill="#fff" />
<rect x="91.0" y="356.4" width="3" height="4.6" fill="#fff" />
<rect x="91.0" y="371.0" width="3" height="4.7" fill="#fff" />
<rect x="97.0" y="356.4" width="3" height="4.6" fill="#fff" />
<rect x="97.0" y="371.0" width="3" height="4.7" fill="#fff" />
<rect x="103.0" y="356.4" width="3" height="4.6" fill="#fff" />
<rect x="103.0" y="371.0" width="3" height="4.7" fill="#fff" />
<rect x="108.5" y="356.4" width="3" height="4.6" fill="#fff" />
<rect x="108.5" y="371.0" width="3" height="4.7" fill="#fff" />
<rect x="114.5" y="356.4" width="3" height="4.6" fill="#fff" />
<rect x="114.5" y="371.0" width="3" height="4.7" fill="#fff" />
<rect x="120.0" y="356.4" width="3" height="4.6" fill="#fff" />
<rect x="120.0" y="371.0" width="3" height="4.7" fill="#fff" />
<rect x="126.0" y="356.4" width="3" height="4.6" fill="#fff" />
<rect x="126.0" y="371.0" width="3" height="4.7" fill="#fff" />
<rect x="132.0" y="356.4" width="3" height="4.6" fill="#fff" />
<rect x="132.0" y="371.0" width="3" height="4.7" fill="#fff" />
<rect x="137.5" y="356.4" width="3" height="4.6" fill="#fff" />
<rect x="137.5" y="371.0" width="3" height="4.7" fill="#fff" />
<rect x="143.5" y="356.4" width="3" height="4.6" fill="#fff" />
<rect x="143.5" y="371.0" width="3" height="4.7" fill="#fff" />
<rect x="149.5" y="356.4" width="3" height="4.6" fill="#fff" />
<rect x="149.5" y="371.0" width="3" height="4.7" fill="#fff" />
<rect x="155.0" y="356.4" width="3" height="4.6" fill="#fff" />
<rect x="155.0" y="371.0" width="3" height="4.7" fill="#fff" />
<rect x="161.0" y="356.4" width="3" height="4.6" fill="#fff" />
<rect x="161.0" y="371.0" width="3" height="4.7" fill="#fff" />
<rect x="88" y="363.3" width="32" height="5.5" fill="#fff" />
<rect x="126" y="363.3" width="33.5" height="5.5" fill="#fff" />
<path d="M167.0,363.0 L164.0,365.2 L164.0,366.6 L167.0,369.0 Z" fill="#fff" shape-rendering="geometricPrecision"/>
<rect x="83" y="380.0" width="83.8" height="24" fill="#000" />
<rect x="85.5" y="382.4" width="3" height="4.6" fill="#fff" />
<rect x="85.5" y="397.0" width="3" height="4.7" fill="#fff" />
<rect x="91.0" y="382.4" width="3" height="4.6" fill="#fff" />
<rect x="91.0" y="397.0" width="3" height="4.7" fill="#fff" />
<rect x="97.0" y="382.4" width="3" height="4.6" fill="#fff" />
<rect x="97.0" y="397.0" width="3" height="4.7" fill="#fff" />
<rect x="103.0" y="382.4" width="3" height="4.6" fill="#fff" />
<rect x="103.0" y="397.0" width="3" height="4.7" fill="#fff" />
<rect x="108.5" y="382.4" width="3" height="4.6" fill="#fff" />
<rect x="108.5" y="397.0" width="3" height="4.7" fill="#fff" />
<rect x="114.5" y="382.4" width="3" height="4.6" fill="#fff" />
<rect x="114.5" y="397.0" width="3" height="4.7" fill="#fff" />
<rect x="120.0" y="382.4" width="3" height="4.6" fill="#fff" />
<rect x="120.0" y="397.0" width="3" height="4.7" fill="#fff" />
<rect x="126.0" y="382.4" width="3" height="4.6" fill="#fff" />
<rect x="126.0" y="397.0" width="3" height="4.7" fill="#fff" />
<rect x="132.0" y="382.4" width="3" height="4.6" fill="#fff" />
<rect x="132.0" y="397.0" width="3" height="4.7" fill="#fff" />
<rect x="137.5" y="382.4" width="3" height="4.6" fill="#fff" />
<rect x="137.5" y="397.0" width="3" height="4.7" fill="#fff" />
<rect x="143.5" y="382.4" width="3" height="4.6" fill="#fff" />
<rect x="143.5" y="397.0" width="3" height="4.7" fill="#fff" />
<rect x="149.5" y="382.4" width="3" height="4.6" fill="#fff" />
<rect x="149.5" y="397.0" width="3" height="4.7" fill="#fff" />
<rect x="155.0" y="382.4" width="3" height="4.6" fill="#fff" />
<rect x="155.0" y="397.0" width="3" height="4.7" fill="#fff" />
<rect x="161.0" y="382.4" width="3" height="4.6" fill="#fff" />
<rect x="161.0" y="397.0" width="3" height="4.7" fill="#fff" />
<rect x="88" y="389.3" width="32" height="5.5" fill="#fff" />
<rect x="126" y="389.3" width="33.5" height="5.5" fill="#fff" />
<path d="M167.0,389.0 L164.0,391.2 L164.0,392.6 L167.0,395.0 Z" fill="#fff" shape-rendering="geometricPrecision"/>
<rect x="83" y="406.0" width="83.8" height="24" fill="#000" />
<rect x="85.5" y="408.4" width="3" height="4.6" fill="#fff" />
<rect x="85.5" y="423.0" width="3" height="4.7" fill="#fff" />
<rect x="91.0" y="408.4" width="3" height="4.6" fill="#fff" />
<rect x="91.0" y="423.0" width="3" height="4.7" fill="#fff" />
<rect x="97.0" y="408.4" width="3" height="4.6" fill="#fff" />
<rect x="97.0" y="423.0" width="3" height="4.7" fill="#fff" />
<rect x="103.0" y="408.4" width="3" height="4.6" fill="#fff" />
<rect x="103.0" y="423.0" width="3" height="4.7" fill="#fff" />
<rect x="108.5" y="408.4" width="3" height="4.6" fill="#fff" />
<rect x="108.5" y="423.0" width="3" height="4.7" fill="#fff" />
<rect x="114.5" y="408.4" width="3" height="4.6" fill="#fff" />
<rect x="114.5" y="423.0" width="3" height="4.7" fill="#fff" />
<rect x="120.0" y="408.4" width="3" height="4.6" fill="#fff" />
<rect x="120.0" y="423.0" width="3" height="4.7" fill="#fff" />
<rect x="126.0" y="408.4" width="3" height="4.6" fill="#fff" />
<rect x="126.0" y="423.0" width="3" height="4.7" fill="#fff" />
<rect x="132.0" y="408.4" width="3" height="4.6" fill="#fff" />
<rect x="132.0" y="423.0" width="3" height="4.7" fill="#fff" />
<rect x="137.5" y="408.4" width="3" height="4.6" fill="#fff" />
<rect x="137.5" y="423.0" width="3" height="4.7" fill="#fff" />
<rect x="143.5" y="408.4" width="3" height="4.6" fill="#fff" />
<rect x="143.5" y="423.0" width="3" height="4.7" fill="#fff" />
<rect x="149.5" y="408.4" width="3" height="4.6" fill="#fff" />
<rect x="149.5" y="423.0" width="3" height="4.7" fill="#fff" />
<rect x="155.0" y="408.4" width="3" height="4.6" fill="#fff" />
<rect x="155.0" y="423.0" width="3" height="4.7" fill="#fff" />
<rect x="161.0" y="408.4" width="3" height="4.6" fill="#fff" />
<rect x="161.0" y="423.0" width="3" height="4.7" fill="#fff" />
<rect x="88" y="415.3" width="32" height="5.5" fill="#fff" />
<rect x="126" y="415.3" width="33.5" height="5.5" fill="#fff" />
<path d="M167.0,415.0 L164.0,417.2 L164.0,418.6 L167.0,421.0 Z" fill="#fff" shape-rendering="geometricPrecision"/>
<rect x="83" y="432.0" width="83.8" height="24" fill="#000" />
<rect x="85.5" y="434.4" width="3" height="4.6" fill="#fff" />
<rect x="85.5" y="449.0" width="3" height="4.7" fill="#fff" />
<rect x="91.0" y="434.4" width="3" height="4.6" fill="#fff" />
<rect x="91.0" y="449.0" width="3" height="4.7" fill="#fff" />
<rect x="97.0" y="434.4" width="3" height="4.6" fill="#fff" />
<rect x="97.0" y="449.0" width="3" height="4.7" fill="#fff" />
<rect x="103.0" y="434.4" width="3" height="4.6" fill="#fff" />
<rect x="103.0" y="449.0" width="3" height="4.7" fill="#fff" />
<rect x="108.5" y="434.4" width="3" height="4.6" fill="#fff" />
<rect x="108.5" y="449.0" width="3" height="4.7" fill="#fff" />
<rect x="114.5" y="434.4" width="3" height="4.6" fill="#fff" />
<rect x="114.5" y="449.0" width="3" height="4.7" fill="#fff" />
<rect x="120.0" y="434.4" width="3" height="4.6" fill="#fff" />
<rect x="120.0" y="449.0" width="3" height="4.7" fill="#fff" />
<rect x="126.0" y="434.4" width="3" height="4.6" fill="#fff" />
<rect x="126.0" y="449.0" width="3" height="4.7" fill="#fff" />
<rect x="132.0" y="434.4" width="3" height="4.6" fill="#fff" />
<rect x="132.0" y="449.0" width="3" height="4.7" fill="#fff" />
<rect x="137.5" y="434.4" width="3" height="4.6" fill="#fff" />
<rect x="137.5" y="449.0" width="3" height="4.7" fill="#fff" />
<rect x="143.5" y="434.4" width="3" height="4.6" fill="#fff" />
<rect x="143.5" y="449.0" width="3" height="4.7" fill="#fff" />
<rect x="149.5" y="434.4" width="3" height="4.6" fill="#fff" />
<rect x="149.5" y="449.0" width="3" height="4.7" fill="#fff" />
<rect x="155.0" y="434.4" width="3" height="4.6" fill="#fff" />
<rect x="155.0" y="449.0" width="3" height="4.7" fill="#fff" />
<rect x="161.0" y="434.4" width="3" height="4.6" fill="#fff" />
<rect x="161.0" y="449.0" width="3" height="4.7" fill="#fff" />
<rect x="88" y="441.3" width="32" height="5.5" fill="#fff" />
<rect x="126" y="441.3" width="33.5" height="5.5" fill="#fff" />
<path d="M167.0,441.0 L164.0,443.2 L164.0,444.6 L167.0,447.0 Z" fill="#fff" shape-rendering="geometricPrecision"/>
<rect x="83" y="458.0" width="83.8" height="24" fill="#000" />
<rect x="85.5" y="460.4" width="3" height="4.6" fill="#fff" />
<rect x="85.5" y="475.0" width="3" height="4.7" fill="#fff" />
<rect x="91.0" y="460.4" width="3" height="4.6" fill="#fff" />
<rect x="91.0" y="475.0" width="3" height="4.7" fill="#fff" />
<rect x="97.0" y="460.4" width="3" height="4.6" fill="#fff" />
<rect x="97.0" y="475.0" width="3" height="4.7" fill="#fff" />
<rect x="103.0" y="460.4" width="3" height="4.6" fill="#fff" />
<rect x="103.0" y="475.0" width="3" height="4.7" fill="#fff" />
<rect x="108.5" y="460.4" width="3" height="4.6" fill="#fff" />
<rect x="108.5" y="475.0" width="3" height="4.7" fill="#fff" />
<rect x="114.5" y="460.4" width="3" height="4.6" fill="#fff" />
<rect x="114.5" y="475.0" width="3" height="4.7" fill="#fff" />
<rect x="120.0" y="460.4" width="3" height="4.6" fill="#fff" />
<rect x="120.0" y="475.0" width="3" height="4.7" fill="#fff" />
<rect x="126.0" y="460.4" width="3" height="4.6" fill="#fff" />
<rect x="126.0" y="475.0" width="3" height="4.7" fill="#fff" />
<rect x="132.0" y="460.4" width="3" height="4.6" fill="#fff" />
<rect x="132.0" y="475.0" width="3" height="4.7" fill="#fff" />
<rect x="137.5" y="460.4" width="3" height="4.6" fill="#fff" />
<rect x="137.5" y="475.0" width="3" height="4.7" fill="#fff" />
<rect x="143.5" y="460.4" width="3" height="4.6" fill="#fff" />
<rect x="143.5" y="475.0" width="3" height="4.7" fill="#fff" />
<rect x="149.5" y="460.4" width="3" height="4.6" fill="#fff" />
<rect x="149.5" y="475.0" width="3" height="4.7" fill="#fff" />
<rect x="155.0" y="460.4" width="3" height="4.6" fill="#fff" />
<rect x="155.0" y="475.0" width="3" height="4.7" fill="#fff" />
<rect x="161.0" y="460.4" width="3" height="4.6" fill="#fff" />
<rect x="161.0" y="475.0" width="3" height="4.7" fill="#fff" />
<rect x="88" y="467.3" width="32" height="5.5" fill="#fff" />
<rect x="126" y="467.3" width="33.5" height="5.5" fill="#fff" />
<path d="M167.0,467.0 L164.0,469.2 L164.0,470.6 L167.0,473.0 Z" fill="#fff" shape-rendering="geometricPrecision"/>
<rect x="83" y="484.5" width="83.8" height="24" fill="#000" />
<rect x="85.5" y="486.9" width="3" height="4.6" fill="#fff" />
<rect x="85.5" y="501.5" width="3" height="4.7" fill="#fff" />
<rect x="91.0" y="486.9" width="3" height="4.6" fill="#fff" />
<rect x="91.0" y="501.5" width="3" height="4.7" fill="#fff" />
<rect x="97.0" y="486.9" width="3" height="4.6" fill="#fff" />
<rect x="97.0" y="501.5" width="3" height="4.7" fill="#fff" />
<rect x="103.0" y="486.9" width="3" height="4.6" fill="#fff" />
<rect x="103.0" y="501.5" width="3" height="4.7" fill="#fff" />
<rect x="108.5" y="486.9" width="3" height="4.6" fill="#fff" />
<rect x="108.5" y="501.5" width="3" height="4.7" fill="#fff" />
<rect x="114.5" y="486.9" width="3" height="4.6" fill="#fff" />
<rect x="114.5" y="501.5" width="3" height="4.7" fill="#fff" />
<rect x="120.0" y="486.9" width="3" height="4.6" fill="#fff" />
<rect x="120.0" y="501.5" width="3" height="4.7" fill="#fff" />
<rect x="126.0" y="486.9" width="3" height="4.6" fill="#fff" />
<rect x="126.0" y="501.5" width="3" height="4.7" fill="#fff" />
<rect x="132.0" y="486.9" width="3" height="4.6" fill="#fff" />
<rect x="132.0" y="501.5" width="3" height="4.7" fill="#fff" />
<rect x="137.5" y="486.9" width="3" height="4.6" fill="#fff" />
<rect x="137.5" y="501.5" width="3" height="4.7" fill="#fff" />
<rect x="143.5" y="486.9" width="3" height="4.6" fill="#fff" />
<rect x="143.5" y="501.5" width="3" height="4.7" fill="#fff" />
<rect x="149.5" y="486.9" width="3" height="4.6" fill="#fff" />
<rect x="149.5" y="501.5" width="3" height="4.7" fill="#fff" />
<rect x="155.0" y="486.9" width="3" height="4.6" fill="#fff" />
<rect x="155.0" y="501.5" width="3" height="4.7" fill="#fff" />
<rect x="161.0" y="486.9" width="3" height="4.6" fill="#fff" />
<rect x="161.0" y="501.5" width="3" height="4.7" fill="#fff" />
<rect x="88" y="493.8" width="32" height="5.5" fill="#fff" />
<rect x="126" y="493.8" width="33.5" height="5.5" fill="#fff" />
<path d="M167.0,493.5 L164.0,495.7 L164.0,497.1 L167.0,499.5 Z" fill="#fff" shape-rendering="geometricPrecision"/>
<rect x="83" y="510.5" width="83.8" height="24" fill="#000" />
<rect x="85.5" y="512.9" width="3" height="4.6" fill="#fff" />
<rect x="85.5" y="527.5" width="3" height="4.7" fill="#fff" />
<rect x="91.0" y="512.9" width="3" height="4.6" fill="#fff" />
<rect x="91.0" y="527.5" width="3" height="4.7" fill="#fff" />
<rect x="97.0" y="512.9" width="3" height="4.6" fill="#fff" />
<rect x="97.0" y="527.5" width="3" height="4.7" fill="#fff" />
<rect x="103.0" y="512.9" width="3" height="4.6" fill="#fff" />
<rect x="103.0" y="527.5" width="3" height="4.7" fill="#fff" />
<rect x="108.5" y="512.9" width="3" height="4.6" fill="#fff" />
<rect x="108.5" y="527.5" width="3" height="4.7" fill="#fff" />
<rect x="114.5" y="512.9" width="3" height="4.6" fill="#fff" />
<rect x="114.5" y="527.5" width="3" height="4.7" fill="#fff" />
<rect x="120.0" y="512.9" width="3" height="4.6" fill="#fff" />
<rect x="120.0" y="527.5" width="3" height="4.7" fill="#fff" />
<rect x="126.0" y="512.9" width="3" height="4.6" fill="#fff" />
<rect x="126.0" y="527.5" width="3" height="4.7" fill="#fff" />
<rect x="132.0" y="512.9" width="3" height="4.6" fill="#fff" />
<rect x="132.0" y="527.5" width="3" height="4.7" fill="#fff" />
<rect x="137.5" y="512.9" width="3" height="4.6" fill="#fff" />
<rect x="137.5" y="527.5" width="3" height="4.7" fill="#fff" />
<rect x="143.5" y="512.9" width="3" height="4.6" fill="#fff" />
<rect x="143.5" y="527.5" width="3" height="4.7" fill="#fff" />
<rect x="149.5" y="512.9" width="3" height="4.6" fill="#fff" />
<rect x="149.5" y="527.5" width="3" height="4.7" fill="#fff" />
<rect x="155.0" y="512.9" width="3" height="4.6" fill="#fff" />
<rect x="155.0" y="527.5" width="3" height="4.7" fill="#fff" />
<rect x="161.0" y="512.9" width="3" height="4.6" fill="#fff" />
<rect x="161.0" y="527.5" width="3" height="4.7" fill="#fff" />
<rect x="88" y="519.8" width="32" height="5.5" fill="#fff" />
<rect x="126" y="519.8" width="33.5" height="5.5" fill="#fff" />
<path d="M167.0,519.5 L164.0,521.7 L164.0,523.1 L167.0,525.5 Z" fill="#fff" shape-rendering="geometricPrecision"/>
<path d="M165.3,321 L172.6,325 L173.5,326.5 L173.5,426.5 L179.5,432.3 L173.5,437.5 L173.5,535 L167,540" fill="none" stroke="#000" stroke-width="1" shape-rendering="geometricPrecision"/>
<rect x="117.2" y="393.8" width="15.3" height="74.2" fill="#fff" stroke="#000" stroke-width="1.5" rx="3.5" shape-rendering="geometricPrecision"/>
<text transform="translate(124.6,405.7) scale(0.85,1)" font-size="12.4" text-anchor="middle" letter-spacing="0" fill="#000" stroke="#000" stroke-width="0.12" >B</text>
<text transform="translate(124.6,421) scale(0.85,1)" font-size="12.4" text-anchor="middle" letter-spacing="0" fill="#000" stroke="#000" stroke-width="0.12" >A</text>
<text transform="translate(124.6,436) scale(0.85,1)" font-size="12.4" text-anchor="middle" letter-spacing="0" fill="#000" stroke="#000" stroke-width="0.12" >N</text>
<text transform="translate(124.6,450.4) scale(0.85,1)" font-size="12.4" text-anchor="middle" letter-spacing="0" fill="#000" stroke="#000" stroke-width="0.12" >K</text>
<text transform="translate(124.8,465.5) scale(0.95,1)" font-size="10.3" text-anchor="middle" letter-spacing="0" fill="#000" stroke="#000" stroke-width="0.28" >0</text>
<rect x="178.9" y="394" width="17.6" height="79.8" fill="#000" stroke="#000" stroke-width="1.5" rx="3.5" shape-rendering="geometricPrecision"/>
<rect x="180" y="393.6" width="17" height="79" fill="#fff" stroke="#000" stroke-width="1.5" rx="3.5" shape-rendering="geometricPrecision"/>
<text transform="translate(187.5,407.7) scale(0.85,1)" font-size="12.6" text-anchor="middle" letter-spacing="0" fill="#000" stroke="#000" stroke-width="0.12" >C</text>
<text transform="translate(187.5,422.5) scale(0.85,1)" font-size="12.6" text-anchor="middle" letter-spacing="0" fill="#000" stroke="#000" stroke-width="0.12" >A</text>
<text transform="translate(187.5,437.5) scale(0.85,1)" font-size="12.6" text-anchor="middle" letter-spacing="0" fill="#000" stroke="#000" stroke-width="0.12" >C</text>
<text transform="translate(187.5,452.5) scale(0.85,1)" font-size="12.6" text-anchor="middle" letter-spacing="0" fill="#000" stroke="#000" stroke-width="0.12" >H</text>
<text transform="translate(187.5,467.6) scale(0.85,1)" font-size="12.6" text-anchor="middle" letter-spacing="0" fill="#000" stroke="#000" stroke-width="0.12" >E</text>
<rect x="106" y="122.3" width="83.7" height="24.5" fill="#000" />
<rect x="109" y="124.3" width="3" height="5.2" fill="#fff" />
<rect x="109" y="139.8" width="3" height="5" fill="#fff" />
<rect x="115" y="124.3" width="3" height="5.2" fill="#fff" />
<rect x="115" y="139.8" width="3" height="5" fill="#fff" />
<rect x="121" y="124.3" width="3" height="5.2" fill="#fff" />
<rect x="121" y="139.8" width="3" height="5" fill="#fff" />
<rect x="127" y="124.3" width="3" height="5.2" fill="#fff" />
<rect x="127" y="139.8" width="3" height="5" fill="#fff" />
<rect x="132" y="124.3" width="3" height="5.2" fill="#fff" />
<rect x="132" y="139.8" width="3" height="5" fill="#fff" />
<rect x="138" y="124.3" width="3" height="5.2" fill="#fff" />
<rect x="138" y="139.8" width="3" height="5" fill="#fff" />
<rect x="144" y="124.3" width="3" height="5.2" fill="#fff" />
<rect x="144" y="139.8" width="3" height="5" fill="#fff" />
<rect x="150" y="124.3" width="3" height="5.2" fill="#fff" />
<rect x="150" y="139.8" width="3" height="5" fill="#fff" />
<rect x="156" y="124.3" width="3" height="5.2" fill="#fff" />
<rect x="156" y="139.8" width="3" height="5" fill="#fff" />
<rect x="161" y="124.3" width="3" height="5.2" fill="#fff" />
<rect x="161" y="139.8" width="3" height="5" fill="#fff" />
<rect x="167" y="124.3" width="3" height="5.2" fill="#fff" />
<rect x="167" y="139.8" width="3" height="5" fill="#fff" />
<rect x="173" y="124.3" width="3" height="5.2" fill="#fff" />
<rect x="173" y="139.8" width="3" height="5" fill="#fff" />
<rect x="179" y="124.3" width="3" height="5.2" fill="#fff" />
<rect x="179" y="139.8" width="3" height="5" fill="#fff" />
<rect x="184" y="124.3" width="3" height="5.2" fill="#fff" />
<rect x="184" y="139.8" width="3" height="5" fill="#fff" />
<rect x="111" y="131.7" width="72" height="5.3" fill="#fff" />
<path d="M189.9,131.8 L187.3,133.8 L187.3,135.2 L189.9,137.2 Z" fill="#fff" shape-rendering="geometricPrecision"/>
<rect x="131" y="123.3" width="34" height="22.5" fill="#000" />
<line x1="134.5" y1="124.8" x2="162" y2="124.8" stroke="#fff" stroke-width="0.9" stroke-dasharray="3,2.4"/>
<line x1="134.5" y1="144.3" x2="162" y2="144.3" stroke="#fff" stroke-width="0.9" stroke-dasharray="3,2.4"/>
<rect x="133.8" y="126" width="29.0" height="16" fill="#fff" stroke="#000" stroke-width="1.0" rx="3.5" shape-rendering="geometricPrecision"/>
<text transform="translate(147.70000000000002,138.68) scale(0.82,1)" font-size="13" text-anchor="middle" textLength="29.76" lengthAdjust="spacing" fill="#000" stroke="#000" stroke-width="0.12" >TAG</text>
<rect x="199.5" y="119.5" width="52" height="18" fill="#fff" stroke="#000" stroke-width="1" />
<rect x="203" y="123" width="6" height="9.5" fill="#000" />
<rect x="210" y="123" width="6" height="9.5" fill="#000" />
<rect x="218" y="123" width="6" height="9.5" fill="#000" />
<rect x="225" y="123" width="6" height="9.5" fill="#000" />
<rect x="233" y="123" width="6" height="9.5" fill="#000" />
<rect x="240.5" y="123.5" width="5" height="9" fill="#fff" stroke="#000" stroke-width="1" />
<rect x="247.5" y="120.5" width="3" height="3.5" fill="#fff" stroke="#000" stroke-width="1" />
<rect x="259.8" y="95.3" width="32.5" height="17.299999999999997" fill="#000" stroke="#000" stroke-width="1.7" rx="3" shape-rendering="geometricPrecision"/>
<rect x="259" y="94.5" width="32.5" height="17.299999999999997" fill="#fff" stroke="#000" stroke-width="1.7" rx="3" shape-rendering="geometricPrecision"/>
<polygon points="258.4696699141101,107.76966991411008 249.6433135084513,119.65970942216516 251.3566864915487,121.34029057783484 263.0303300858899,112.33033008588991" fill="#000" shape-rendering="geometricPrecision"/>
<polygon points="261.0708628119204,107.25973818471732 259.5303300858899,108.83033008588991 251.525,119.455 261.9696699141101,111.26966991411008 263.5102026401406,109.69907801293749" fill="#fff" shape-rendering="geometricPrecision"/>
<text transform="translate(274.84999999999997,107.83000000000001) scale(0.82,1)" font-size="13" text-anchor="middle" textLength="33.54" lengthAdjust="spacing" fill="#000" stroke="#000" stroke-width="0.12" >SW1</text>
<circle cx="274.4" cy="153.5" r="23.4" fill="#fff" stroke="#000" stroke-width="1" shape-rendering="geometricPrecision"/>
<rect x="267.2" y="175.2" width="16" height="16.3" fill="#000" />
<path d="M271.5,191.5 L271.5,146 L272.8,143.5 L272.8,140 Q272.8,138.2 274.5,138.2 Q276.3,138.2 276.3,140 L276.3,143.5 L277.5,146 L277.5,191.5 Z" fill="#fff" stroke="#000" stroke-width="1" shape-rendering="geometricPrecision"/>
<line x1="272" y1="149" x2="277.5" y2="149" stroke="#000" stroke-width="1" />
<rect x="116" y="37" width="7" height="13.5" fill="#000" />
<rect x="117" y="41" width="5" height="1.5" fill="#fff" />
<rect x="117" y="44.5" width="5" height="1.5" fill="#fff" />
<rect x="133.5" y="37" width="7" height="13.5" fill="#000" />
<rect x="134.5" y="41" width="5" height="1.5" fill="#fff" />
<rect x="134.5" y="44.5" width="5" height="1.5" fill="#fff" />
<rect x="104.3" y="3.5" width="32.3" height="17.1" fill="#fff" stroke="#000" stroke-width="1.7" rx="3" shape-rendering="geometricPrecision"/>
<polygon points="116.55,20.6 118.20036397998824,37.46923938414173 120.79963602001176,37.53076061585827 123.25,20.6" fill="#000" shape-rendering="geometricPrecision"/>
<polygon points="118.10205642683707,18.400615966133937 118.05,20.6 119.72,28.205000000000002 121.75,20.6 121.80205642683707,18.400615966133937" fill="#fff" shape-rendering="geometricPrecision"/>
<text transform="translate(120.64999999999999,16.73) scale(0.82,1)" font-size="13" text-anchor="middle" textLength="32.32" lengthAdjust="spacing" fill="#000" stroke="#000" stroke-width="0.12" >JG1</text>
<rect x="146.5" y="13.5" width="33.5" height="16.5" fill="#000" stroke="#000" stroke-width="1.7" rx="4" shape-rendering="geometricPrecision"/>
<rect x="146" y="13" width="33.5" height="16.5" fill="#fff" stroke="#000" stroke-width="1.7" rx="4" shape-rendering="geometricPrecision"/>
<polygon points="145.43944301098725,25.00172712087756 137.04890965180562,37.61375672100068 138.95109034819438,39.38624327899932 151.06055698901275,29.99827287912244" fill="#000" shape-rendering="geometricPrecision"/>
<polygon points="148.0603533073193,24.388735366793465 146.56055698901275,25.99827287912244 143.6375,32.45 149.93944301098725,29.00172712087756 151.4392393292938,27.392189608548588" fill="#fff" shape-rendering="geometricPrecision"/>
<text transform="translate(160.55,25.93) scale(0.82,1)" font-size="13" text-anchor="middle" textLength="28.90" lengthAdjust="spacing" fill="#000" stroke="#000" stroke-width="0.12" >JG2</text>
<rect x="52.5" y="65" width="7" height="12.5" fill="#000" />
<rect x="62" y="65" width="7" height="12.5" fill="#000" />
<rect x="54.5" y="66" width="1" height="10.5" fill="#fff" />
<rect x="52.5" y="71.5" width="7" height="1" fill="#fff" />
<rect x="63.5" y="71.5" width="4.5" height="1" fill="#fff" />
<rect x="22.7" y="41.3" width="32.5" height="16.5" fill="#000" stroke="#000" stroke-width="1.7" rx="3" shape-rendering="geometricPrecision"/>
<rect x="23.5" y="40.5" width="32.5" height="16.5" fill="#fff" stroke="#000" stroke-width="1.7" rx="3" shape-rendering="geometricPrecision"/>
<polygon points="50.939443010987254,57.49827287912244 62.547368460885814,66.38458642917746 64.4526315391142,64.61541357082254 56.560556989012746,52.50172712087756" fill="#000" shape-rendering="geometricPrecision"/>
<polygon points="50.563564570404736,54.889581439299704 52.060556989012746,56.50172712087756 58.1375,59.725 55.439443010987254,53.49827287912244 53.942450592379245,51.88612719754458" fill="#fff" shape-rendering="geometricPrecision"/>
<text transform="translate(37.349999999999994,53.43) scale(0.82,1)" font-size="13" text-anchor="middle" textLength="26.95" lengthAdjust="spacing" fill="#000" stroke="#000" stroke-width="0.12" >JV2</text>
<rect x="3.8" y="62.4" width="34.2" height="16" fill="#000" stroke="#000" stroke-width="1.7" rx="3" shape-rendering="geometricPrecision"/>
<rect x="3.8" y="64" width="34.2" height="16" fill="#fff" stroke="#000" stroke-width="1.7" rx="3" shape-rendering="geometricPrecision"/>
<polygon points="38.0,67.75 52.96967492070383,70.60035374444979 53.03032507929617,73.19964625555022 38.0,76.75" fill="#000" shape-rendering="geometricPrecision"/>
<polygon points="35.800598644453494,69.30131936496275 38.0,69.25 46.25,72.0575 38.0,75.25 35.800598644453494,75.30131936496275" fill="#fff" shape-rendering="geometricPrecision"/>
<text transform="translate(19.0,76.68) scale(0.82,1)" font-size="13" text-anchor="middle" textLength="28.54" lengthAdjust="spacing" fill="#000" stroke="#000" stroke-width="0.12" >JV1</text>
<rect x="78" y="67" width="71.6" height="12.5" fill="#000" />
<rect x="84" y="68" width="1" height="10.5" fill="#fff" />
<rect x="90" y="68" width="1" height="10.5" fill="#fff" />
<rect x="96" y="68" width="1" height="10.5" fill="#fff" />
<rect x="102" y="68" width="1" height="10.5" fill="#fff" />
<rect x="108" y="68" width="1" height="10.5" fill="#fff" />
<rect x="114" y="68" width="1" height="10.5" fill="#fff" />
<rect x="120" y="68" width="1" height="10.5" fill="#fff" />
<rect x="125" y="68" width="1" height="10.5" fill="#fff" />
<rect x="131" y="68" width="1" height="10.5" fill="#fff" />
<rect x="78" y="72.7" width="58" height="1" fill="#fff" />
<rect x="136" y="68" width="8" height="10.5" fill="#fff" />
<rect x="147.8" y="68" width="0.8" height="10.5" fill="#fff" />
<rect x="144" y="72.7" width="5" height="1" fill="#fff" />
<rect x="80" y="74.7" width="3.2" height="3.4" fill="#fff" />
<text transform="translate(79.6,64.6) scale(1,1)" font-size="9.5" text-anchor="middle" textLength="10.50" lengthAdjust="spacing" fill="#000" stroke="#000" stroke-width="0.28" >11</text>
<text transform="translate(133.6,65.3) scale(1,1)" font-size="9.5" text-anchor="middle" textLength="11.30" lengthAdjust="spacing" fill="#000" stroke="#000" stroke-width="0.28" >20</text>
<text transform="translate(156.4,72.6) scale(1,1)" font-size="9.5" text-anchor="middle" textLength="12.00" lengthAdjust="spacing" fill="#000" stroke="#000" stroke-width="0.28" >22</text>
<text transform="translate(155.6,83.8) scale(1,1)" font-size="9.5" text-anchor="middle" textLength="11.00" lengthAdjust="spacing" fill="#000" stroke="#000" stroke-width="0.28" >21</text>
<text transform="translate(133.2,88.2) scale(1,1)" font-size="9.5" text-anchor="middle" textLength="11.50" lengthAdjust="spacing" fill="#000" stroke="#000" stroke-width="0.28" >10</text>
<rect x="47.599999999999994" y="87.3" width="22.700000000000003" height="16.5" fill="#000" stroke="#000" stroke-width="1.7" rx="3" shape-rendering="geometricPrecision"/>
<rect x="48.3" y="86.8" width="22.700000000000003" height="16.5" fill="#fff" stroke="#000" stroke-width="1.7" rx="3" shape-rendering="geometricPrecision"/>
<polygon points="65.9813213756555,86.25826899235129 78.63158953415586,78.53259974012182 80.36841046584414,80.46740025987818 71.5186786243445,92.0417310076487" fill="#000" shape-rendering="geometricPrecision"/>
<polygon points="65.3815397230122,88.81134871907724 67.0186786243445,87.3417310076487 73.5875,84.8075 70.4813213756555,90.9582689923513 68.84418247432319,92.42788670377983" fill="#fff" shape-rendering="geometricPrecision"/>
<text transform="translate(59.3,99.72999999999999) scale(0.82,1)" font-size="13" text-anchor="middle" textLength="18.54" lengthAdjust="spacing" fill="#000" stroke="#000" stroke-width="0.12" >JF</text>
<rect x="166.5" y="99.5" width="24.5" height="5.5" fill="#fff" stroke="#000" stroke-width="1" />
<rect x="168.0" y="100.5" width="4.2" height="4.5" fill="#000" />
<rect x="173.9" y="100.5" width="4.2" height="4.5" fill="#000" />
<rect x="179.8" y="100.5" width="4.2" height="4.5" fill="#000" />
<rect x="186.2" y="101" width="3" height="2.5" fill="#fff" stroke="#000" stroke-width="1" />
<rect x="166.5" y="107.8" width="24.5" height="5.5" fill="#fff" stroke="#000" stroke-width="1" />
<rect x="168.0" y="108.8" width="4.2" height="4.5" fill="#000" />
<rect x="173.9" y="108.8" width="4.2" height="4.5" fill="#000" />
<rect x="179.8" y="108.8" width="4.2" height="4.5" fill="#000" />
<rect x="186.2" y="109.3" width="3" height="2.5" fill="#fff" stroke="#000" stroke-width="1" />
<rect x="164.89999999999998" y="65.5" width="32.20000000000002" height="17.200000000000003" fill="#000" stroke="#000" stroke-width="1.7" rx="3" shape-rendering="geometricPrecision"/>
<rect x="164.2" y="64.8" width="32.20000000000002" height="17.200000000000003" fill="#fff" stroke="#000" stroke-width="1.7" rx="3" shape-rendering="geometricPrecision"/>
<polygon points="175.75,82.0 178.00026596466748,99.27370480275339 180.59973403533255,99.32629519724661 183.55,82.0" fill="#000" shape-rendering="geometricPrecision"/>
<polygon points="177.2944995645712,79.80045009405265 177.25,82.0 179.4925,89.785 182.05,82.0 182.0944995645712,79.80045009405265" fill="#fff" shape-rendering="geometricPrecision"/>
<text transform="translate(179.25,78.08000000000001) scale(0.82,1)" font-size="13" text-anchor="middle" textLength="27.44" lengthAdjust="spacing" fill="#000" stroke="#000" stroke-width="0.12" >JS1</text>
<rect x="200.1" y="84.5" width="31.599999999999994" height="17.200000000000003" fill="#000" stroke="#000" stroke-width="1.7" rx="3" shape-rendering="geometricPrecision"/>
<rect x="199.4" y="83.8" width="31.599999999999994" height="17.200000000000003" fill="#fff" stroke="#000" stroke-width="1.7" rx="3" shape-rendering="geometricPrecision"/>
<polygon points="198.89488250286223,95.9456027470439 190.61486317064808,107.04787984302146 192.38513682935192,108.95212015697854 204.00511749713777,101.5543972529561" fill="#000" shape-rendering="geometricPrecision"/>
<polygon points="201.5163977627938,95.55647338789902 199.90511749713778,97.0543972529561 196.9725,102.9125 202.99488250286223,100.4456027470439 204.60616276851823,98.94767888198683" fill="#fff" shape-rendering="geometricPrecision"/>
<text transform="translate(213.8,97.08000000000001) scale(0.82,1)" font-size="13" text-anchor="middle" textLength="27.07" lengthAdjust="spacing" fill="#000" stroke="#000" stroke-width="0.12" >JS2</text>
<rect x="248.5" y="47.3" width="25" height="5.3" fill="#fff" stroke="#000" stroke-width="1" />
<rect x="250.0" y="48.3" width="4.2" height="4.3" fill="#000" />
<rect x="255.9" y="48.3" width="4.2" height="4.3" fill="#000" />
<rect x="261.8" y="48.3" width="4.2" height="4.3" fill="#000" />
<rect x="268.2" y="48.8" width="3" height="2.3" fill="#fff" stroke="#000" stroke-width="1" />
<rect x="248.5" y="55.8" width="25" height="5.5" fill="#fff" stroke="#000" stroke-width="1" />
<rect x="250.0" y="56.8" width="4.2" height="4.5" fill="#000" />
<rect x="255.9" y="56.8" width="4.2" height="4.5" fill="#000" />
<rect x="261.8" y="56.8" width="4.2" height="4.5" fill="#000" />
<rect x="268.2" y="57.3" width="3" height="2.5" fill="#fff" stroke="#000" stroke-width="1" />
<rect x="239.4" y="11.8" width="41.99999999999997" height="17.599999999999998" fill="#fff" stroke="#000" stroke-width="1.7" rx="3" shape-rendering="geometricPrecision"/>
<polygon points="256.45,29.4 258.90000524596513,46.99630683308513 261.49999475403484,47.00369316691487 264.05,29.4" fill="#000" shape-rendering="geometricPrecision"/>
<polygon points="257.956249974779,27.20000887778717 257.95,29.4 260.2275,37.32 262.55,29.4 262.556249974779,27.20000887778717" fill="#fff" shape-rendering="geometricPrecision"/>
<text transform="translate(260.2,25.28) scale(0.82,1)" font-size="13" text-anchor="middle" textLength="41.22" lengthAdjust="spacing" fill="#000" stroke="#000" stroke-width="0.12" >JFAN</text>
<rect x="289" y="49.8" width="35.19999999999999" height="17.400000000000006" fill="#fff" stroke="#000" stroke-width="1.7" rx="3" shape-rendering="geometricPrecision"/>
<polygon points="289.0,53.85 274.2469829196314,57.40108153096925 274.3530170803686,59.998918469030755 289.0,62.35" fill="#000" shape-rendering="geometricPrecision"/>
<polygon points="291.19816971682127,55.26027878706852 289.0,55.35 281.65,58.400000000000006 289.0,60.85 291.19816971682127,60.76027878706852" fill="#fff" shape-rendering="geometricPrecision"/>
<text transform="translate(304.65000000000003,63.18) scale(0.82,1)" font-size="13" text-anchor="middle" textLength="27.20" lengthAdjust="spacing" fill="#000" stroke="#000" stroke-width="0.12" >JB1</text>
<rect x="489.4" y="409" width="117.5" height="12.5" fill="#000" />
<rect x="490.4" y="410" width="1" height="10.5" fill="#fff" />
<rect x="495" y="410" width="1" height="10.5" fill="#fff" />
<rect x="501" y="410" width="1" height="10.5" fill="#fff" />
<rect x="507" y="410" width="2" height="10.5" fill="#fff" />
<rect x="512" y="410" width="2" height="10.5" fill="#fff" />
<rect x="519" y="410" width="1" height="10.5" fill="#fff" />
<rect x="524" y="410" width="1" height="10.5" fill="#fff" />
<rect x="530" y="410" width="2" height="10.5" fill="#fff" />
<rect x="536" y="410" width="2" height="10.5" fill="#fff" />
<rect x="542" y="410" width="1" height="10.5" fill="#fff" />
<rect x="548" y="410" width="1" height="10.5" fill="#fff" />
<rect x="553" y="410" width="2" height="10.5" fill="#fff" />
<rect x="559" y="410" width="2" height="10.5" fill="#fff" />
<rect x="565" y="410" width="1" height="10.5" fill="#fff" />
<rect x="571" y="410" width="1" height="10.5" fill="#fff" />
<rect x="576" y="410" width="2" height="10.5" fill="#fff" />
<rect x="588" y="410" width="1" height="10.5" fill="#fff" />
<rect x="594" y="410" width="1" height="10.5" fill="#fff" />
<rect x="599" y="410" width="2" height="10.5" fill="#fff" />
<rect x="490.4" y="415" width="115.5" height="1" fill="#fff" />
<rect x="492.29999999999995" y="416.9" width="2.6" height="2.4" fill="#fff" stroke="#000" stroke-width="0.9" />
<rect x="489.4" y="429.7" width="117.5" height="12.5" fill="#000" />
<rect x="490.4" y="430.7" width="1" height="10.5" fill="#fff" />
<rect x="495" y="430.7" width="1" height="10.5" fill="#fff" />
<rect x="501" y="430.7" width="1" height="10.5" fill="#fff" />
<rect x="507" y="430.7" width="2" height="10.5" fill="#fff" />
<rect x="512" y="430.7" width="2" height="10.5" fill="#fff" />
<rect x="519" y="430.7" width="1" height="10.5" fill="#fff" />
<rect x="524" y="430.7" width="1" height="10.5" fill="#fff" />
<rect x="530" y="430.7" width="2" height="10.5" fill="#fff" />
<rect x="536" y="430.7" width="2" height="10.5" fill="#fff" />
<rect x="542" y="430.7" width="1" height="10.5" fill="#fff" />
<rect x="548" y="430.7" width="1" height="10.5" fill="#fff" />
<rect x="553" y="430.7" width="2" height="10.5" fill="#fff" />
<rect x="559" y="430.7" width="2" height="10.5" fill="#fff" />
<rect x="565" y="430.7" width="1" height="10.5" fill="#fff" />
<rect x="571" y="430.7" width="1" height="10.5" fill="#fff" />
<rect x="576" y="430.7" width="2" height="10.5" fill="#fff" />
<rect x="588" y="430.7" width="1" height="10.5" fill="#fff" />
<rect x="594" y="430.7" width="1" height="10.5" fill="#fff" />
<rect x="599" y="430.7" width="2" height="10.5" fill="#fff" />
<rect x="490.4" y="435" width="115.5" height="1" fill="#fff" />
<rect x="492.29999999999995" y="436.9" width="2.6" height="2.4" fill="#fff" stroke="#000" stroke-width="0.9" />
<rect x="619.5" y="410" width="100" height="11.5" fill="#fff" stroke="#000" stroke-width="1" />
<rect x="621.0" y="411.2" width="4.2" height="3.6" fill="#000" />
<rect x="627.0" y="411.2" width="4.2" height="3.6" fill="#000" />
<rect x="627.0" y="416.8" width="4.2" height="4.2" fill="#000" />
<rect x="632.5" y="411.2" width="4.2" height="3.6" fill="#000" />
<rect x="632.5" y="416.8" width="4.2" height="4.2" fill="#000" />
<rect x="638.5" y="411.2" width="4.2" height="3.6" fill="#000" />
<rect x="638.5" y="416.8" width="4.2" height="4.2" fill="#000" />
<rect x="644.0" y="411.2" width="4.2" height="3.6" fill="#000" />
<rect x="644.0" y="416.8" width="4.2" height="4.2" fill="#000" />
<rect x="650.0" y="411.2" width="4.2" height="3.6" fill="#000" />
<rect x="650.0" y="416.8" width="4.2" height="4.2" fill="#000" />
<rect x="656.0" y="411.2" width="4.2" height="3.6" fill="#000" />
<rect x="656.0" y="416.8" width="4.2" height="4.2" fill="#000" />
<rect x="661.5" y="411.2" width="4.2" height="3.6" fill="#000" />
<rect x="661.5" y="416.8" width="4.2" height="4.2" fill="#000" />
<rect x="667.5" y="411.2" width="4.2" height="3.6" fill="#000" />
<rect x="667.5" y="416.8" width="4.2" height="4.2" fill="#000" />
<rect x="673.0" y="411.2" width="4.2" height="3.6" fill="#000" />
<rect x="673.0" y="416.8" width="4.2" height="4.2" fill="#000" />
<rect x="679.0" y="411.2" width="4.2" height="3.6" fill="#000" />
<rect x="679.0" y="416.8" width="4.2" height="4.2" fill="#000" />
<rect x="685.0" y="411.2" width="4.2" height="3.6" fill="#000" />
<rect x="685.0" y="416.8" width="4.2" height="4.2" fill="#000" />
<rect x="690.5" y="411.2" width="4.2" height="3.6" fill="#000" />
<rect x="690.5" y="416.8" width="4.2" height="4.2" fill="#000" />
<rect x="696.5" y="411.2" width="4.2" height="3.6" fill="#000" />
<rect x="696.5" y="416.8" width="4.2" height="4.2" fill="#000" />
<rect x="702.0" y="411.2" width="4.2" height="3.6" fill="#000" />
<rect x="702.0" y="416.8" width="4.2" height="4.2" fill="#000" />
<rect x="708.0" y="411.2" width="4.2" height="3.6" fill="#000" />
<rect x="708.0" y="416.8" width="4.2" height="4.2" fill="#000" />
<rect x="714.0" y="411.2" width="4.2" height="3.6" fill="#000" />
<rect x="714.0" y="416.8" width="4.2" height="4.2" fill="#000" />
<rect x="620.5" y="416.8" width="5" height="4.2" fill="#000" />
<rect x="622" y="418" width="2.4" height="2" fill="#fff" />
<rect x="619.6" y="429.3" width="77.2" height="12.5" fill="#000" />
<rect x="620.6" y="430.3" width="1" height="10.5" fill="#fff" />
<rect x="626" y="430.3" width="1" height="10.5" fill="#fff" />
<rect x="631" y="430.3" width="1" height="10.5" fill="#fff" />
<rect x="637" y="430.3" width="1" height="10.5" fill="#fff" />
<rect x="643" y="430.3" width="2" height="10.5" fill="#fff" />
<rect x="648" y="430.3" width="2" height="10.5" fill="#fff" />
<rect x="654" y="430.3" width="2" height="10.5" fill="#fff" />
<rect x="661" y="430.3" width="1" height="10.5" fill="#fff" />
<rect x="666" y="430.3" width="1" height="10.5" fill="#fff" />
<rect x="672" y="430.3" width="1" height="10.5" fill="#fff" />
<rect x="678" y="430.3" width="1" height="10.5" fill="#fff" />
<rect x="683" y="430.3" width="2" height="10.5" fill="#fff" />
<rect x="690" y="430.3" width="1" height="10.5" fill="#fff" />
<rect x="620.6" y="435" width="75.2" height="1" fill="#fff" />
<rect x="622.5" y="436.9" width="2.6" height="2.4" fill="#fff" stroke="#000" stroke-width="0.9" />
<rect x="438.8" y="406.6" width="34.19999999999999" height="16.799999999999955" fill="#fff" stroke="#000" stroke-width="1.7" rx="3" shape-rendering="geometricPrecision"/>
<polygon points="473.0,411.05 489.483031549519,413.8001028353167 489.516968450481,416.5998971646833 473.0,419.75" fill="#000" shape-rendering="geometricPrecision"/>
<polygon points="470.80016159835486,412.5766647078987 473.0,412.55 481.25,415.29999999999995 473.0,418.25 470.80016159835486,418.2766647078987" fill="#fff" shape-rendering="geometricPrecision"/>
<text transform="translate(455.05,419.68) scale(0.82,1)" font-size="13" text-anchor="middle" textLength="29.63" lengthAdjust="spacing" fill="#000" stroke="#000" stroke-width="0.12" >CN2</text>
<rect x="438.8" y="429.20000000000005" width="34.19999999999999" height="16.799999999999955" fill="#000" stroke="#000" stroke-width="1.7" rx="3" shape-rendering="geometricPrecision"/>
<rect x="438.8" y="428.6" width="34.19999999999999" height="16.799999999999955" fill="#fff" stroke="#000" stroke-width="1.7" rx="3" shape-rendering="geometricPrecision"/>
<polygon points="473.0,431.25 489.5,434.6 489.5,437.4 473.0,440.75" fill="#000" shape-rendering="geometricPrecision"/>
<polygon points="470.8,432.75 473.0,432.75 481.25,436.0 473.0,439.25 470.8,439.25" fill="#fff" shape-rendering="geometricPrecision"/>
<text transform="translate(454.45,441.68) scale(0.82,1)" font-size="13" text-anchor="middle" textLength="28.17" lengthAdjust="spacing" fill="#000" stroke="#000" stroke-width="0.12" >CN1</text>
<rect x="656.4" y="376.3" width="31.200000000000045" height="16.900000000000034" fill="#000" stroke="#000" stroke-width="1.7" rx="3" shape-rendering="geometricPrecision"/>
<rect x="655.8" y="375.7" width="31.200000000000045" height="16.900000000000034" fill="#fff" stroke="#000" stroke-width="1.7" rx="3" shape-rendering="geometricPrecision"/>
<polygon points="666.05,392.6 669.1003433703177,409.9701228360993 671.6996566296823,410.0298771639007 675.55,392.6" fill="#000" shape-rendering="geometricPrecision"/>
<polygon points="667.6005613542935,390.4005810882299 667.55,392.6 670.62,400.43 674.05,392.6 674.1005613542935,390.4005810882299" fill="#fff" shape-rendering="geometricPrecision"/>
<text transform="translate(670.0999999999999,388.83) scale(0.82,1)" font-size="13" text-anchor="middle" textLength="30.73" lengthAdjust="spacing" fill="#000" stroke="#000" stroke-width="0.12" >CN4</text>
<rect x="747.5" y="379.5" width="12" height="31" fill="#fff" stroke="#000" stroke-width="1" />
<rect x="754" y="381.0" width="4.600000000000023" height="4" fill="#000" />
<rect x="749" y="387.0" width="3.6000000000000227" height="4" fill="#000" />
<rect x="754" y="387.0" width="4.600000000000023" height="4" fill="#000" />
<rect x="749" y="393.0" width="3.6000000000000227" height="4" fill="#000" />
<rect x="754" y="393.0" width="4.600000000000023" height="4" fill="#000" />
<rect x="749" y="398.5" width="3.6000000000000227" height="4" fill="#000" />
<rect x="754" y="398.5" width="4.600000000000023" height="4" fill="#000" />
<rect x="749" y="404.5" width="3.6000000000000227" height="4.4" fill="#000" />
<rect x="754" y="404.5" width="4.600000000000023" height="4.4" fill="#000" />
<rect x="749.5" y="381.5" width="2.6000000000000227" height="3" fill="#fff" stroke="#000" stroke-width="1" />
<rect x="771.8" y="379.5" width="11.7" height="31" fill="#fff" stroke="#000" stroke-width="1" />
<rect x="778.4" y="381.0" width="4.399999999999977" height="4" fill="#000" />
<rect x="772.5" y="387.0" width="4.2999999999999545" height="4" fill="#000" />
<rect x="778.4" y="387.0" width="4.399999999999977" height="4" fill="#000" />
<rect x="772.5" y="393.0" width="4.2999999999999545" height="4" fill="#000" />
<rect x="778.4" y="393.0" width="4.399999999999977" height="4" fill="#000" />
<rect x="772.5" y="398.5" width="4.2999999999999545" height="4" fill="#000" />
<rect x="778.4" y="398.5" width="4.399999999999977" height="4" fill="#000" />
<rect x="772.5" y="404.5" width="4.2999999999999545" height="4.4" fill="#000" />
<rect x="778.4" y="404.5" width="4.399999999999977" height="4.4" fill="#000" />
<rect x="773.0" y="381.5" width="3.2999999999999545" height="3" fill="#fff" stroke="#000" stroke-width="1" />
<rect x="737.1999999999999" y="346.20000000000005" width="32.40000000000009" height="17.399999999999977" fill="#000" stroke="#000" stroke-width="1.7" rx="3" shape-rendering="geometricPrecision"/>
<rect x="737.8" y="345.6" width="32.40000000000009" height="17.399999999999977" fill="#fff" stroke="#000" stroke-width="1.7" rx="3" shape-rendering="geometricPrecision"/>
<polygon points="749.55,363.0 752.0001491937802,379.48030529081484 754.5998508062197,379.51969470918516 757.55,363.0" fill="#000" shape-rendering="geometricPrecision"/>
<polygon points="751.0833295078518,360.80025248178197 751.05,363.0 753.4375,370.425 756.05,363.0 756.0833295078518,360.80025248178197" fill="#fff" shape-rendering="geometricPrecision"/>
<text transform="translate(753.5,358.98) scale(0.82,1)" font-size="13" text-anchor="middle" textLength="31.46" lengthAdjust="spacing" fill="#000" stroke="#000" stroke-width="0.12" >CN5</text>
<rect x="800.1" y="387.1" width="34.299999999999955" height="17.80000000000001" fill="#000" stroke="#000" stroke-width="1.7" rx="3" shape-rendering="geometricPrecision"/>
<rect x="799.5" y="386.5" width="34.299999999999955" height="17.80000000000001" fill="#fff" stroke="#000" stroke-width="1.7" rx="3" shape-rendering="geometricPrecision"/>
<polygon points="799.5,390.65 784.0090320700941,393.6000291354068 783.9909679299059,396.3999708645932 799.5,399.55" fill="#000" shape-rendering="geometricPrecision"/>
<polygon points="801.6999542157893,392.16419325300507 799.5,392.15 791.75,395.05 799.5,398.05 801.6999542157893,398.0641932530051" fill="#fff" shape-rendering="geometricPrecision"/>
<text transform="translate(816.9,400.08) scale(0.82,1)" font-size="13" text-anchor="middle" textLength="30.73" lengthAdjust="spacing" fill="#000" stroke="#000" stroke-width="0.12" >CN6</text>
<rect x="451" y="468" width="278.5" height="16" fill="#000" />
<rect x="452" y="469" width="276.0" height="14" fill="#fff" />
<rect x="451" y="471" width="8" height="1" fill="#000" />
<rect x="451" y="477" width="8" height="1" fill="#000" />
<rect x="459" y="468" width="4" height="15" fill="#000" />
<path d="M463,471.5 H472.5 V478.5 H469.5" fill="none" stroke="#000" stroke-width="1"/>
<path d="M463,478.5 H465.5 V476.5 H469.5 V482.5 H463" fill="none" stroke="#000" stroke-width="1"/>
<rect x="475" y="471" width="229.7" height="11" fill="#000" />
<rect x="474" y="471" width="1" height="6" fill="#000" />
<rect x="477" y="472" width="1" height="4" fill="#fff" />
<rect x="480" y="472" width="1" height="4" fill="#fff" />
<rect x="478" y="470" width="2" height="1" fill="#000" />
<rect x="482" y="472" width="1" height="4" fill="#fff" />
<rect x="485" y="472" width="1" height="4" fill="#fff" />
<rect x="483" y="470" width="2" height="1" fill="#000" />
<rect x="487" y="472" width="1" height="4" fill="#fff" />
<rect x="490" y="472" width="1" height="4" fill="#fff" />
<rect x="488" y="470" width="2" height="1" fill="#000" />
<rect x="492" y="472" width="1" height="4" fill="#fff" />
<rect x="495" y="472" width="1" height="4" fill="#fff" />
<rect x="493" y="470" width="2" height="1" fill="#000" />
<rect x="497" y="472" width="1" height="4" fill="#fff" />
<rect x="500" y="472" width="1" height="4" fill="#fff" />
<rect x="498" y="470" width="2" height="1" fill="#000" />
<rect x="502" y="472" width="1" height="4" fill="#fff" />
<rect x="505" y="472" width="1" height="4" fill="#fff" />
<rect x="503" y="470" width="2" height="1" fill="#000" />
<rect x="507" y="472" width="1" height="4" fill="#fff" />
<rect x="510" y="472" width="1" height="4" fill="#fff" />
<rect x="508" y="470" width="2" height="1" fill="#000" />
<rect x="512" y="472" width="1" height="4" fill="#fff" />
<rect x="515" y="472" width="1" height="4" fill="#fff" />
<rect x="513" y="470" width="2" height="1" fill="#000" />
<rect x="518" y="472" width="1" height="4" fill="#fff" />
<rect x="521" y="472" width="1" height="4" fill="#fff" />
<rect x="519" y="470" width="2" height="1" fill="#000" />
<rect x="523" y="472" width="1" height="4" fill="#fff" />
<rect x="526" y="472" width="1" height="4" fill="#fff" />
<rect x="524" y="470" width="2" height="1" fill="#000" />
<rect x="528" y="472" width="1" height="4" fill="#fff" />
<rect x="531" y="472" width="1" height="4" fill="#fff" />
<rect x="529" y="470" width="2" height="1" fill="#000" />
<rect x="533" y="472" width="1" height="4" fill="#fff" />
<rect x="536" y="472" width="1" height="4" fill="#fff" />
<rect x="534" y="470" width="2" height="1" fill="#000" />
<rect x="538" y="472" width="1" height="4" fill="#fff" />
<rect x="541" y="472" width="1" height="4" fill="#fff" />
<rect x="539" y="470" width="2" height="1" fill="#000" />
<rect x="543" y="472" width="1" height="4" fill="#fff" />
<rect x="546" y="472" width="1" height="4" fill="#fff" />
<rect x="544" y="470" width="2" height="1" fill="#000" />
<rect x="548" y="472" width="1" height="4" fill="#fff" />
<rect x="551" y="472" width="1" height="4" fill="#fff" />
<rect x="549" y="470" width="2" height="1" fill="#000" />
<rect x="553" y="472" width="1" height="4" fill="#fff" />
<rect x="556" y="472" width="1" height="4" fill="#fff" />
<rect x="554" y="470" width="2" height="1" fill="#000" />
<rect x="558" y="472" width="1" height="4" fill="#fff" />
<rect x="561" y="472" width="1" height="4" fill="#fff" />
<rect x="559" y="470" width="2" height="1" fill="#000" />
<rect x="563" y="472" width="1" height="4" fill="#fff" />
<rect x="566" y="472" width="1" height="4" fill="#fff" />
<rect x="564" y="470" width="2" height="1" fill="#000" />
<rect x="568" y="472" width="1" height="4" fill="#fff" />
<rect x="571" y="472" width="1" height="4" fill="#fff" />
<rect x="569" y="470" width="2" height="1" fill="#000" />
<rect x="573" y="472" width="1" height="4" fill="#fff" />
<rect x="576" y="472" width="1" height="4" fill="#fff" />
<rect x="574" y="470" width="2" height="1" fill="#000" />
<rect x="578" y="472" width="1" height="4" fill="#fff" />
<rect x="581" y="472" width="1" height="4" fill="#fff" />
<rect x="579" y="470" width="2" height="1" fill="#000" />
<rect x="583" y="472" width="1" height="4" fill="#fff" />
<rect x="586" y="472" width="1" height="4" fill="#fff" />
<rect x="584" y="470" width="2" height="1" fill="#000" />
<rect x="589" y="472" width="1" height="4" fill="#fff" />
<rect x="592" y="472" width="1" height="4" fill="#fff" />
<rect x="590" y="470" width="2" height="1" fill="#000" />
<rect x="594" y="472" width="1" height="4" fill="#fff" />
<rect x="597" y="472" width="1" height="4" fill="#fff" />
<rect x="595" y="470" width="2" height="1" fill="#000" />
<rect x="599" y="472" width="1" height="4" fill="#fff" />
<rect x="602" y="472" width="1" height="4" fill="#fff" />
<rect x="600" y="470" width="2" height="1" fill="#000" />
<rect x="604" y="472" width="1" height="4" fill="#fff" />
<rect x="607" y="472" width="1" height="4" fill="#fff" />
<rect x="605" y="470" width="2" height="1" fill="#000" />
<rect x="609" y="472" width="1" height="4" fill="#fff" />
<rect x="612" y="472" width="1" height="4" fill="#fff" />
<rect x="610" y="470" width="2" height="1" fill="#000" />
<rect x="614" y="472" width="1" height="4" fill="#fff" />
<rect x="617" y="472" width="1" height="4" fill="#fff" />
<rect x="615" y="470" width="2" height="1" fill="#000" />
<rect x="619" y="472" width="1" height="4" fill="#fff" />
<rect x="622" y="472" width="1" height="4" fill="#fff" />
<rect x="620" y="470" width="2" height="1" fill="#000" />
<rect x="624" y="472" width="1" height="4" fill="#fff" />
<rect x="627" y="472" width="1" height="4" fill="#fff" />
<rect x="625" y="470" width="2" height="1" fill="#000" />
<rect x="629" y="472" width="1" height="4" fill="#fff" />
<rect x="632" y="472" width="1" height="4" fill="#fff" />
<rect x="630" y="470" width="2" height="1" fill="#000" />
<rect x="634" y="472" width="1" height="4" fill="#fff" />
<rect x="637" y="472" width="1" height="4" fill="#fff" />
<rect x="635" y="470" width="2" height="1" fill="#000" />
<rect x="639" y="472" width="1" height="4" fill="#fff" />
<rect x="642" y="472" width="1" height="4" fill="#fff" />
<rect x="640" y="470" width="2" height="1" fill="#000" />
<rect x="644" y="472" width="1" height="4" fill="#fff" />
<rect x="647" y="472" width="1" height="4" fill="#fff" />
<rect x="645" y="470" width="2" height="1" fill="#000" />
<rect x="649" y="472" width="1" height="4" fill="#fff" />
<rect x="652" y="472" width="1" height="4" fill="#fff" />
<rect x="650" y="470" width="2" height="1" fill="#000" />
<rect x="654" y="472" width="1" height="4" fill="#fff" />
<rect x="657" y="472" width="1" height="4" fill="#fff" />
<rect x="655" y="470" width="2" height="1" fill="#000" />
<rect x="660" y="472" width="1" height="4" fill="#fff" />
<rect x="663" y="472" width="1" height="4" fill="#fff" />
<rect x="661" y="470" width="2" height="1" fill="#000" />
<rect x="665" y="472" width="1" height="4" fill="#fff" />
<rect x="668" y="472" width="1" height="4" fill="#fff" />
<rect x="666" y="470" width="2" height="1" fill="#000" />
<rect x="670" y="472" width="1" height="4" fill="#fff" />
<rect x="673" y="472" width="1" height="4" fill="#fff" />
<rect x="671" y="470" width="2" height="1" fill="#000" />
<rect x="675" y="472" width="1" height="4" fill="#fff" />
<rect x="678" y="472" width="1" height="4" fill="#fff" />
<rect x="676" y="470" width="2" height="1" fill="#000" />
<rect x="680" y="472" width="1" height="4" fill="#fff" />
<rect x="683" y="472" width="1" height="4" fill="#fff" />
<rect x="681" y="470" width="2" height="1" fill="#000" />
<rect x="685" y="472" width="1" height="4" fill="#fff" />
<rect x="688" y="472" width="1" height="4" fill="#fff" />
<rect x="686" y="470" width="2" height="1" fill="#000" />
<rect x="690" y="472" width="1" height="4" fill="#fff" />
<rect x="693" y="472" width="1" height="4" fill="#fff" />
<rect x="691" y="470" width="2" height="1" fill="#000" />
<rect x="695" y="472" width="1" height="4" fill="#fff" />
<rect x="698" y="472" width="1" height="4" fill="#fff" />
<rect x="696" y="470" width="2" height="1" fill="#000" />
<rect x="700" y="472" width="1" height="4" fill="#fff" />
<rect x="701" y="470" width="2" height="1" fill="#000" />
<path d="M717,471.5 H707.5 V478.5 H710.5" fill="none" stroke="#000" stroke-width="1"/>
<path d="M717,478.5 H714.5 V476.5 H710.5 V482.5 H717" fill="none" stroke="#000" stroke-width="1"/>
<rect x="717" y="470" width="4" height="13" fill="#000" />
<rect x="721" y="471" width="8" height="1" fill="#000" />
<rect x="721" y="477" width="8" height="1" fill="#000" />
<rect x="451" y="485" width="278.5" height="16" fill="#000" />
<rect x="452" y="486" width="276.0" height="14" fill="#fff" />
<rect x="451" y="488" width="8" height="1" fill="#000" />
<rect x="451" y="494" width="8" height="1" fill="#000" />
<rect x="459" y="485" width="4" height="15" fill="#000" />
<path d="M463,488.5 H472.5 V495.5 H469.5" fill="none" stroke="#000" stroke-width="1"/>
<path d="M463,495.5 H465.5 V493.5 H469.5 V499.5 H463" fill="none" stroke="#000" stroke-width="1"/>
<rect x="475" y="488" width="229.7" height="11" fill="#000" />
<rect x="474" y="488" width="1" height="6" fill="#000" />
<rect x="477" y="489" width="1" height="4" fill="#fff" />
<rect x="480" y="489" width="1" height="4" fill="#fff" />
<rect x="478" y="487" width="2" height="1" fill="#000" />
<rect x="482" y="489" width="1" height="4" fill="#fff" />
<rect x="485" y="489" width="1" height="4" fill="#fff" />
<rect x="483" y="487" width="2" height="1" fill="#000" />
<rect x="487" y="489" width="1" height="4" fill="#fff" />
<rect x="490" y="489" width="1" height="4" fill="#fff" />
<rect x="488" y="487" width="2" height="1" fill="#000" />
<rect x="492" y="489" width="1" height="4" fill="#fff" />
<rect x="495" y="489" width="1" height="4" fill="#fff" />
<rect x="493" y="487" width="2" height="1" fill="#000" />
<rect x="497" y="489" width="1" height="4" fill="#fff" />
<rect x="500" y="489" width="1" height="4" fill="#fff" />
<rect x="498" y="487" width="2" height="1" fill="#000" />
<rect x="502" y="489" width="1" height="4" fill="#fff" />
<rect x="505" y="489" width="1" height="4" fill="#fff" />
<rect x="503" y="487" width="2" height="1" fill="#000" />
<rect x="507" y="489" width="1" height="4" fill="#fff" />
<rect x="510" y="489" width="1" height="4" fill="#fff" />
<rect x="508" y="487" width="2" height="1" fill="#000" />
<rect x="512" y="489" width="1" height="4" fill="#fff" />
<rect x="515" y="489" width="1" height="4" fill="#fff" />
<rect x="513" y="487" width="2" height="1" fill="#000" />
<rect x="518" y="489" width="1" height="4" fill="#fff" />
<rect x="521" y="489" width="1" height="4" fill="#fff" />
<rect x="519" y="487" width="2" height="1" fill="#000" />
<rect x="523" y="489" width="1" height="4" fill="#fff" />
<rect x="526" y="489" width="1" height="4" fill="#fff" />
<rect x="524" y="487" width="2" height="1" fill="#000" />
<rect x="528" y="489" width="1" height="4" fill="#fff" />
<rect x="531" y="489" width="1" height="4" fill="#fff" />
<rect x="529" y="487" width="2" height="1" fill="#000" />
<rect x="533" y="489" width="1" height="4" fill="#fff" />
<rect x="536" y="489" width="1" height="4" fill="#fff" />
<rect x="534" y="487" width="2" height="1" fill="#000" />
<rect x="538" y="489" width="1" height="4" fill="#fff" />
<rect x="541" y="489" width="1" height="4" fill="#fff" />
<rect x="539" y="487" width="2" height="1" fill="#000" />
<rect x="543" y="489" width="1" height="4" fill="#fff" />
<rect x="546" y="489" width="1" height="4" fill="#fff" />
<rect x="544" y="487" width="2" height="1" fill="#000" />
<rect x="548" y="489" width="1" height="4" fill="#fff" />
<rect x="551" y="489" width="1" height="4" fill="#fff" />
<rect x="549" y="487" width="2" height="1" fill="#000" />
<rect x="553" y="489" width="1" height="4" fill="#fff" />
<rect x="556" y="489" width="1" height="4" fill="#fff" />
<rect x="554" y="487" width="2" height="1" fill="#000" />
<rect x="558" y="489" width="1" height="4" fill="#fff" />
<rect x="561" y="489" width="1" height="4" fill="#fff" />
<rect x="559" y="487" width="2" height="1" fill="#000" />
<rect x="563" y="489" width="1" height="4" fill="#fff" />
<rect x="566" y="489" width="1" height="4" fill="#fff" />
<rect x="564" y="487" width="2" height="1" fill="#000" />
<rect x="568" y="489" width="1" height="4" fill="#fff" />
<rect x="571" y="489" width="1" height="4" fill="#fff" />
<rect x="569" y="487" width="2" height="1" fill="#000" />
<rect x="573" y="489" width="1" height="4" fill="#fff" />
<rect x="576" y="489" width="1" height="4" fill="#fff" />
<rect x="574" y="487" width="2" height="1" fill="#000" />
<rect x="578" y="489" width="1" height="4" fill="#fff" />
<rect x="581" y="489" width="1" height="4" fill="#fff" />
<rect x="579" y="487" width="2" height="1" fill="#000" />
<rect x="583" y="489" width="1" height="4" fill="#fff" />
<rect x="586" y="489" width="1" height="4" fill="#fff" />
<rect x="584" y="487" width="2" height="1" fill="#000" />
<rect x="589" y="489" width="1" height="4" fill="#fff" />
<rect x="592" y="489" width="1" height="4" fill="#fff" />
<rect x="590" y="487" width="2" height="1" fill="#000" />
<rect x="594" y="489" width="1" height="4" fill="#fff" />
<rect x="597" y="489" width="1" height="4" fill="#fff" />
<rect x="595" y="487" width="2" height="1" fill="#000" />
<rect x="599" y="489" width="1" height="4" fill="#fff" />
<rect x="602" y="489" width="1" height="4" fill="#fff" />
<rect x="600" y="487" width="2" height="1" fill="#000" />
<rect x="604" y="489" width="1" height="4" fill="#fff" />
<rect x="607" y="489" width="1" height="4" fill="#fff" />
<rect x="605" y="487" width="2" height="1" fill="#000" />
<rect x="609" y="489" width="1" height="4" fill="#fff" />
<rect x="612" y="489" width="1" height="4" fill="#fff" />
<rect x="610" y="487" width="2" height="1" fill="#000" />
<rect x="614" y="489" width="1" height="4" fill="#fff" />
<rect x="617" y="489" width="1" height="4" fill="#fff" />
<rect x="615" y="487" width="2" height="1" fill="#000" />
<rect x="619" y="489" width="1" height="4" fill="#fff" />
<rect x="622" y="489" width="1" height="4" fill="#fff" />
<rect x="620" y="487" width="2" height="1" fill="#000" />
<rect x="624" y="489" width="1" height="4" fill="#fff" />
<rect x="627" y="489" width="1" height="4" fill="#fff" />
<rect x="625" y="487" width="2" height="1" fill="#000" />
<rect x="629" y="489" width="1" height="4" fill="#fff" />
<rect x="632" y="489" width="1" height="4" fill="#fff" />
<rect x="630" y="487" width="2" height="1" fill="#000" />
<rect x="634" y="489" width="1" height="4" fill="#fff" />
<rect x="637" y="489" width="1" height="4" fill="#fff" />
<rect x="635" y="487" width="2" height="1" fill="#000" />
<rect x="639" y="489" width="1" height="4" fill="#fff" />
<rect x="642" y="489" width="1" height="4" fill="#fff" />
<rect x="640" y="487" width="2" height="1" fill="#000" />
<rect x="644" y="489" width="1" height="4" fill="#fff" />
<rect x="647" y="489" width="1" height="4" fill="#fff" />
<rect x="645" y="487" width="2" height="1" fill="#000" />
<rect x="649" y="489" width="1" height="4" fill="#fff" />
<rect x="652" y="489" width="1" height="4" fill="#fff" />
<rect x="650" y="487" width="2" height="1" fill="#000" />
<rect x="654" y="489" width="1" height="4" fill="#fff" />
<rect x="657" y="489" width="1" height="4" fill="#fff" />
<rect x="655" y="487" width="2" height="1" fill="#000" />
<rect x="660" y="489" width="1" height="4" fill="#fff" />
<rect x="663" y="489" width="1" height="4" fill="#fff" />
<rect x="661" y="487" width="2" height="1" fill="#000" />
<rect x="665" y="489" width="1" height="4" fill="#fff" />
<rect x="668" y="489" width="1" height="4" fill="#fff" />
<rect x="666" y="487" width="2" height="1" fill="#000" />
<rect x="670" y="489" width="1" height="4" fill="#fff" />
<rect x="673" y="489" width="1" height="4" fill="#fff" />
<rect x="671" y="487" width="2" height="1" fill="#000" />
<rect x="675" y="489" width="1" height="4" fill="#fff" />
<rect x="678" y="489" width="1" height="4" fill="#fff" />
<rect x="676" y="487" width="2" height="1" fill="#000" />
<rect x="680" y="489" width="1" height="4" fill="#fff" />
<rect x="683" y="489" width="1" height="4" fill="#fff" />
<rect x="681" y="487" width="2" height="1" fill="#000" />
<rect x="685" y="489" width="1" height="4" fill="#fff" />
<rect x="688" y="489" width="1" height="4" fill="#fff" />
<rect x="686" y="487" width="2" height="1" fill="#000" />
<rect x="690" y="489" width="1" height="4" fill="#fff" />
<rect x="693" y="489" width="1" height="4" fill="#fff" />
<rect x="691" y="487" width="2" height="1" fill="#000" />
<rect x="695" y="489" width="1" height="4" fill="#fff" />
<rect x="698" y="489" width="1" height="4" fill="#fff" />
<rect x="696" y="487" width="2" height="1" fill="#000" />
<rect x="700" y="489" width="1" height="4" fill="#fff" />
<rect x="701" y="487" width="2" height="1" fill="#000" />
<path d="M717,488.5 H707.5 V495.5 H710.5" fill="none" stroke="#000" stroke-width="1"/>
<path d="M717,495.5 H714.5 V493.5 H710.5 V499.5 H717" fill="none" stroke="#000" stroke-width="1"/>
<rect x="717" y="487" width="4" height="13" fill="#000" />
<rect x="721" y="488" width="8" height="1" fill="#000" />
<rect x="721" y="494" width="8" height="1" fill="#000" />
<rect x="451" y="502" width="278.5" height="16" fill="#000" />
<rect x="452" y="503" width="276.0" height="14" fill="#fff" />
<rect x="451" y="505" width="8" height="1" fill="#000" />
<rect x="451" y="511" width="8" height="1" fill="#000" />
<rect x="459" y="502" width="4" height="15" fill="#000" />
<path d="M463,505.5 H472.5 V512.5 H469.5" fill="none" stroke="#000" stroke-width="1"/>
<path d="M463,512.5 H465.5 V510.5 H469.5 V516.5 H463" fill="none" stroke="#000" stroke-width="1"/>
<rect x="475" y="505" width="229.7" height="11" fill="#000" />
<rect x="474" y="505" width="1" height="6" fill="#000" />
<rect x="477" y="506" width="1" height="4" fill="#fff" />
<rect x="480" y="506" width="1" height="4" fill="#fff" />
<rect x="478" y="504" width="2" height="1" fill="#000" />
<rect x="482" y="506" width="1" height="4" fill="#fff" />
<rect x="485" y="506" width="1" height="4" fill="#fff" />
<rect x="483" y="504" width="2" height="1" fill="#000" />
<rect x="487" y="506" width="1" height="4" fill="#fff" />
<rect x="490" y="506" width="1" height="4" fill="#fff" />
<rect x="488" y="504" width="2" height="1" fill="#000" />
<rect x="492" y="506" width="1" height="4" fill="#fff" />
<rect x="495" y="506" width="1" height="4" fill="#fff" />
<rect x="493" y="504" width="2" height="1" fill="#000" />
<rect x="497" y="506" width="1" height="4" fill="#fff" />
<rect x="500" y="506" width="1" height="4" fill="#fff" />
<rect x="498" y="504" width="2" height="1" fill="#000" />
<rect x="502" y="506" width="1" height="4" fill="#fff" />
<rect x="505" y="506" width="1" height="4" fill="#fff" />
<rect x="503" y="504" width="2" height="1" fill="#000" />
<rect x="507" y="506" width="1" height="4" fill="#fff" />
<rect x="510" y="506" width="1" height="4" fill="#fff" />
<rect x="508" y="504" width="2" height="1" fill="#000" />
<rect x="512" y="506" width="1" height="4" fill="#fff" />
<rect x="515" y="506" width="1" height="4" fill="#fff" />
<rect x="513" y="504" width="2" height="1" fill="#000" />
<rect x="518" y="506" width="1" height="4" fill="#fff" />
<rect x="521" y="506" width="1" height="4" fill="#fff" />
<rect x="519" y="504" width="2" height="1" fill="#000" />
<rect x="523" y="506" width="1" height="4" fill="#fff" />
<rect x="526" y="506" width="1" height="4" fill="#fff" />
<rect x="524" y="504" width="2" height="1" fill="#000" />
<rect x="528" y="506" width="1" height="4" fill="#fff" />
<rect x="531" y="506" width="1" height="4" fill="#fff" />
<rect x="529" y="504" width="2" height="1" fill="#000" />
<rect x="533" y="506" width="1" height="4" fill="#fff" />
<rect x="536" y="506" width="1" height="4" fill="#fff" />
<rect x="534" y="504" width="2" height="1" fill="#000" />
<rect x="538" y="506" width="1" height="4" fill="#fff" />
<rect x="541" y="506" width="1" height="4" fill="#fff" />
<rect x="539" y="504" width="2" height="1" fill="#000" />
<rect x="543" y="506" width="1" height="4" fill="#fff" />
<rect x="546" y="506" width="1" height="4" fill="#fff" />
<rect x="544" y="504" width="2" height="1" fill="#000" />
<rect x="548" y="506" width="1" height="4" fill="#fff" />
<rect x="551" y="506" width="1" height="4" fill="#fff" />
<rect x="549" y="504" width="2" height="1" fill="#000" />
<rect x="553" y="506" width="1" height="4" fill="#fff" />
<rect x="556" y="506" width="1" height="4" fill="#fff" />
<rect x="554" y="504" width="2" height="1" fill="#000" />
<rect x="558" y="506" width="1" height="4" fill="#fff" />
<rect x="561" y="506" width="1" height="4" fill="#fff" />
<rect x="559" y="504" width="2" height="1" fill="#000" />
<rect x="563" y="506" width="1" height="4" fill="#fff" />
<rect x="566" y="506" width="1" height="4" fill="#fff" />
<rect x="564" y="504" width="2" height="1" fill="#000" />
<rect x="568" y="506" width="1" height="4" fill="#fff" />
<rect x="571" y="506" width="1" height="4" fill="#fff" />
<rect x="569" y="504" width="2" height="1" fill="#000" />
<rect x="573" y="506" width="1" height="4" fill="#fff" />
<rect x="576" y="506" width="1" height="4" fill="#fff" />
<rect x="574" y="504" width="2" height="1" fill="#000" />
<rect x="578" y="506" width="1" height="4" fill="#fff" />
<rect x="581" y="506" width="1" height="4" fill="#fff" />
<rect x="579" y="504" width="2" height="1" fill="#000" />
<rect x="583" y="506" width="1" height="4" fill="#fff" />
<rect x="586" y="506" width="1" height="4" fill="#fff" />
<rect x="584" y="504" width="2" height="1" fill="#000" />
<rect x="589" y="506" width="1" height="4" fill="#fff" />
<rect x="592" y="506" width="1" height="4" fill="#fff" />
<rect x="590" y="504" width="2" height="1" fill="#000" />
<rect x="594" y="506" width="1" height="4" fill="#fff" />
<rect x="597" y="506" width="1" height="4" fill="#fff" />
<rect x="595" y="504" width="2" height="1" fill="#000" />
<rect x="599" y="506" width="1" height="4" fill="#fff" />
<rect x="602" y="506" width="1" height="4" fill="#fff" />
<rect x="600" y="504" width="2" height="1" fill="#000" />
<rect x="604" y="506" width="1" height="4" fill="#fff" />
<rect x="607" y="506" width="1" height="4" fill="#fff" />
<rect x="605" y="504" width="2" height="1" fill="#000" />
<rect x="609" y="506" width="1" height="4" fill="#fff" />
<rect x="612" y="506" width="1" height="4" fill="#fff" />
<rect x="610" y="504" width="2" height="1" fill="#000" />
<rect x="614" y="506" width="1" height="4" fill="#fff" />
<rect x="617" y="506" width="1" height="4" fill="#fff" />
<rect x="615" y="504" width="2" height="1" fill="#000" />
<rect x="619" y="506" width="1" height="4" fill="#fff" />
<rect x="622" y="506" width="1" height="4" fill="#fff" />
<rect x="620" y="504" width="2" height="1" fill="#000" />
<rect x="624" y="506" width="1" height="4" fill="#fff" />
<rect x="627" y="506" width="1" height="4" fill="#fff" />
<rect x="625" y="504" width="2" height="1" fill="#000" />
<rect x="629" y="506" width="1" height="4" fill="#fff" />
<rect x="632" y="506" width="1" height="4" fill="#fff" />
<rect x="630" y="504" width="2" height="1" fill="#000" />
<rect x="634" y="506" width="1" height="4" fill="#fff" />
<rect x="637" y="506" width="1" height="4" fill="#fff" />
<rect x="635" y="504" width="2" height="1" fill="#000" />
<rect x="639" y="506" width="1" height="4" fill="#fff" />
<rect x="642" y="506" width="1" height="4" fill="#fff" />
<rect x="640" y="504" width="2" height="1" fill="#000" />
<rect x="644" y="506" width="1" height="4" fill="#fff" />
<rect x="647" y="506" width="1" height="4" fill="#fff" />
<rect x="645" y="504" width="2" height="1" fill="#000" />
<rect x="649" y="506" width="1" height="4" fill="#fff" />
<rect x="652" y="506" width="1" height="4" fill="#fff" />
<rect x="650" y="504" width="2" height="1" fill="#000" />
<rect x="654" y="506" width="1" height="4" fill="#fff" />
<rect x="657" y="506" width="1" height="4" fill="#fff" />
<rect x="655" y="504" width="2" height="1" fill="#000" />
<rect x="660" y="506" width="1" height="4" fill="#fff" />
<rect x="663" y="506" width="1" height="4" fill="#fff" />
<rect x="661" y="504" width="2" height="1" fill="#000" />
<rect x="665" y="506" width="1" height="4" fill="#fff" />
<rect x="668" y="506" width="1" height="4" fill="#fff" />
<rect x="666" y="504" width="2" height="1" fill="#000" />
<rect x="670" y="506" width="1" height="4" fill="#fff" />
<rect x="673" y="506" width="1" height="4" fill="#fff" />
<rect x="671" y="504" width="2" height="1" fill="#000" />
<rect x="675" y="506" width="1" height="4" fill="#fff" />
<rect x="678" y="506" width="1" height="4" fill="#fff" />
<rect x="676" y="504" width="2" height="1" fill="#000" />
<rect x="680" y="506" width="1" height="4" fill="#fff" />
<rect x="683" y="506" width="1" height="4" fill="#fff" />
<rect x="681" y="504" width="2" height="1" fill="#000" />
<rect x="685" y="506" width="1" height="4" fill="#fff" />
<rect x="688" y="506" width="1" height="4" fill="#fff" />
<rect x="686" y="504" width="2" height="1" fill="#000" />
<rect x="690" y="506" width="1" height="4" fill="#fff" />
<rect x="693" y="506" width="1" height="4" fill="#fff" />
<rect x="691" y="504" width="2" height="1" fill="#000" />
<rect x="695" y="506" width="1" height="4" fill="#fff" />
<rect x="698" y="506" width="1" height="4" fill="#fff" />
<rect x="696" y="504" width="2" height="1" fill="#000" />
<rect x="700" y="506" width="1" height="4" fill="#fff" />
<rect x="701" y="504" width="2" height="1" fill="#000" />
<path d="M717,505.5 H707.5 V512.5 H710.5" fill="none" stroke="#000" stroke-width="1"/>
<path d="M717,512.5 H714.5 V510.5 H710.5 V516.5 H717" fill="none" stroke="#000" stroke-width="1"/>
<rect x="717" y="504" width="4" height="13" fill="#000" />
<rect x="721" y="505" width="8" height="1" fill="#000" />
<rect x="721" y="511" width="8" height="1" fill="#000" />
<rect x="451" y="519" width="278.5" height="16" fill="#000" />
<rect x="452" y="520" width="276.0" height="14" fill="#fff" />
<rect x="451" y="522" width="8" height="1" fill="#000" />
<rect x="451" y="528" width="8" height="1" fill="#000" />
<rect x="459" y="519" width="4" height="15" fill="#000" />
<path d="M463,522.5 H472.5 V529.5 H469.5" fill="none" stroke="#000" stroke-width="1"/>
<path d="M463,529.5 H465.5 V527.5 H469.5 V533.5 H463" fill="none" stroke="#000" stroke-width="1"/>
<rect x="475" y="522" width="229.7" height="11" fill="#000" />
<rect x="474" y="522" width="1" height="6" fill="#000" />
<rect x="477" y="523" width="1" height="4" fill="#fff" />
<rect x="480" y="523" width="1" height="4" fill="#fff" />
<rect x="478" y="521" width="2" height="1" fill="#000" />
<rect x="482" y="523" width="1" height="4" fill="#fff" />
<rect x="485" y="523" width="1" height="4" fill="#fff" />
<rect x="483" y="521" width="2" height="1" fill="#000" />
<rect x="487" y="523" width="1" height="4" fill="#fff" />
<rect x="490" y="523" width="1" height="4" fill="#fff" />
<rect x="488" y="521" width="2" height="1" fill="#000" />
<rect x="492" y="523" width="1" height="4" fill="#fff" />
<rect x="495" y="523" width="1" height="4" fill="#fff" />
<rect x="493" y="521" width="2" height="1" fill="#000" />
<rect x="497" y="523" width="1" height="4" fill="#fff" />
<rect x="500" y="523" width="1" height="4" fill="#fff" />
<rect x="498" y="521" width="2" height="1" fill="#000" />
<rect x="502" y="523" width="1" height="4" fill="#fff" />
<rect x="505" y="523" width="1" height="4" fill="#fff" />
<rect x="503" y="521" width="2" height="1" fill="#000" />
<rect x="507" y="523" width="1" height="4" fill="#fff" />
<rect x="510" y="523" width="1" height="4" fill="#fff" />
<rect x="508" y="521" width="2" height="1" fill="#000" />
<rect x="512" y="523" width="1" height="4" fill="#fff" />
<rect x="515" y="523" width="1" height="4" fill="#fff" />
<rect x="513" y="521" width="2" height="1" fill="#000" />
<rect x="518" y="523" width="1" height="4" fill="#fff" />
<rect x="521" y="523" width="1" height="4" fill="#fff" />
<rect x="519" y="521" width="2" height="1" fill="#000" />
<rect x="523" y="523" width="1" height="4" fill="#fff" />
<rect x="526" y="523" width="1" height="4" fill="#fff" />
<rect x="524" y="521" width="2" height="1" fill="#000" />
<rect x="528" y="523" width="1" height="4" fill="#fff" />
<rect x="531" y="523" width="1" height="4" fill="#fff" />
<rect x="529" y="521" width="2" height="1" fill="#000" />
<rect x="533" y="523" width="1" height="4" fill="#fff" />
<rect x="536" y="523" width="1" height="4" fill="#fff" />
<rect x="534" y="521" width="2" height="1" fill="#000" />
<rect x="538" y="523" width="1" height="4" fill="#fff" />
<rect x="541" y="523" width="1" height="4" fill="#fff" />
<rect x="539" y="521" width="2" height="1" fill="#000" />
<rect x="543" y="523" width="1" height="4" fill="#fff" />
<rect x="546" y="523" width="1" height="4" fill="#fff" />
<rect x="544" y="521" width="2" height="1" fill="#000" />
<rect x="548" y="523" width="1" height="4" fill="#fff" />
<rect x="551" y="523" width="1" height="4" fill="#fff" />
<rect x="549" y="521" width="2" height="1" fill="#000" />
<rect x="553" y="523" width="1" height="4" fill="#fff" />
<rect x="556" y="523" width="1" height="4" fill="#fff" />
<rect x="554" y="521" width="2" height="1" fill="#000" />
<rect x="558" y="523" width="1" height="4" fill="#fff" />
<rect x="561" y="523" width="1" height="4" fill="#fff" />
<rect x="559" y="521" width="2" height="1" fill="#000" />
<rect x="563" y="523" width="1" height="4" fill="#fff" />
<rect x="566" y="523" width="1" height="4" fill="#fff" />
<rect x="564" y="521" width="2" height="1" fill="#000" />
<rect x="568" y="523" width="1" height="4" fill="#fff" />
<rect x="571" y="523" width="1" height="4" fill="#fff" />
<rect x="569" y="521" width="2" height="1" fill="#000" />
<rect x="573" y="523" width="1" height="4" fill="#fff" />
<rect x="576" y="523" width="1" height="4" fill="#fff" />
<rect x="574" y="521" width="2" height="1" fill="#000" />
<rect x="578" y="523" width="1" height="4" fill="#fff" />
<rect x="581" y="523" width="1" height="4" fill="#fff" />
<rect x="579" y="521" width="2" height="1" fill="#000" />
<rect x="583" y="523" width="1" height="4" fill="#fff" />
<rect x="586" y="523" width="1" height="4" fill="#fff" />
<rect x="584" y="521" width="2" height="1" fill="#000" />
<rect x="589" y="523" width="1" height="4" fill="#fff" />
<rect x="592" y="523" width="1" height="4" fill="#fff" />
<rect x="590" y="521" width="2" height="1" fill="#000" />
<rect x="594" y="523" width="1" height="4" fill="#fff" />
<rect x="597" y="523" width="1" height="4" fill="#fff" />
<rect x="595" y="521" width="2" height="1" fill="#000" />
<rect x="599" y="523" width="1" height="4" fill="#fff" />
<rect x="602" y="523" width="1" height="4" fill="#fff" />
<rect x="600" y="521" width="2" height="1" fill="#000" />
<rect x="604" y="523" width="1" height="4" fill="#fff" />
<rect x="607" y="523" width="1" height="4" fill="#fff" />
<rect x="605" y="521" width="2" height="1" fill="#000" />
<rect x="609" y="523" width="1" height="4" fill="#fff" />
<rect x="612" y="523" width="1" height="4" fill="#fff" />
<rect x="610" y="521" width="2" height="1" fill="#000" />
<rect x="614" y="523" width="1" height="4" fill="#fff" />
<rect x="617" y="523" width="1" height="4" fill="#fff" />
<rect x="615" y="521" width="2" height="1" fill="#000" />
<rect x="619" y="523" width="1" height="4" fill="#fff" />
<rect x="622" y="523" width="1" height="4" fill="#fff" />
<rect x="620" y="521" width="2" height="1" fill="#000" />
<rect x="624" y="523" width="1" height="4" fill="#fff" />
<rect x="627" y="523" width="1" height="4" fill="#fff" />
<rect x="625" y="521" width="2" height="1" fill="#000" />
<rect x="629" y="523" width="1" height="4" fill="#fff" />
<rect x="632" y="523" width="1" height="4" fill="#fff" />
<rect x="630" y="521" width="2" height="1" fill="#000" />
<rect x="634" y="523" width="1" height="4" fill="#fff" />
<rect x="637" y="523" width="1" height="4" fill="#fff" />
<rect x="635" y="521" width="2" height="1" fill="#000" />
<rect x="639" y="523" width="1" height="4" fill="#fff" />
<rect x="642" y="523" width="1" height="4" fill="#fff" />
<rect x="640" y="521" width="2" height="1" fill="#000" />
<rect x="644" y="523" width="1" height="4" fill="#fff" />
<rect x="647" y="523" width="1" height="4" fill="#fff" />
<rect x="645" y="521" width="2" height="1" fill="#000" />
<rect x="649" y="523" width="1" height="4" fill="#fff" />
<rect x="652" y="523" width="1" height="4" fill="#fff" />
<rect x="650" y="521" width="2" height="1" fill="#000" />
<rect x="654" y="523" width="1" height="4" fill="#fff" />
<rect x="657" y="523" width="1" height="4" fill="#fff" />
<rect x="655" y="521" width="2" height="1" fill="#000" />
<rect x="660" y="523" width="1" height="4" fill="#fff" />
<rect x="663" y="523" width="1" height="4" fill="#fff" />
<rect x="661" y="521" width="2" height="1" fill="#000" />
<rect x="665" y="523" width="1" height="4" fill="#fff" />
<rect x="668" y="523" width="1" height="4" fill="#fff" />
<rect x="666" y="521" width="2" height="1" fill="#000" />
<rect x="670" y="523" width="1" height="4" fill="#fff" />
<rect x="673" y="523" width="1" height="4" fill="#fff" />
<rect x="671" y="521" width="2" height="1" fill="#000" />
<rect x="675" y="523" width="1" height="4" fill="#fff" />
<rect x="678" y="523" width="1" height="4" fill="#fff" />
<rect x="676" y="521" width="2" height="1" fill="#000" />
<rect x="680" y="523" width="1" height="4" fill="#fff" />
<rect x="683" y="523" width="1" height="4" fill="#fff" />
<rect x="681" y="521" width="2" height="1" fill="#000" />
<rect x="685" y="523" width="1" height="4" fill="#fff" />
<rect x="688" y="523" width="1" height="4" fill="#fff" />
<rect x="686" y="521" width="2" height="1" fill="#000" />
<rect x="690" y="523" width="1" height="4" fill="#fff" />
<rect x="693" y="523" width="1" height="4" fill="#fff" />
<rect x="691" y="521" width="2" height="1" fill="#000" />
<rect x="695" y="523" width="1" height="4" fill="#fff" />
<rect x="698" y="523" width="1" height="4" fill="#fff" />
<rect x="696" y="521" width="2" height="1" fill="#000" />
<rect x="700" y="523" width="1" height="4" fill="#fff" />
<rect x="701" y="521" width="2" height="1" fill="#000" />
<path d="M717,522.5 H707.5 V529.5 H710.5" fill="none" stroke="#000" stroke-width="1"/>
<path d="M717,529.5 H714.5 V527.5 H710.5 V533.5 H717" fill="none" stroke="#000" stroke-width="1"/>
<rect x="717" y="521" width="4" height="13" fill="#000" />
<rect x="721" y="522" width="8" height="1" fill="#000" />
<rect x="721" y="528" width="8" height="1" fill="#000" />
<rect x="561.5" y="467.6" width="56.6" height="16.4" fill="#fff" stroke="#000" stroke-width="2" shape-rendering="geometricPrecision"/>
<text transform="translate(591,479.6) scale(0.82,1)" font-size="13" text-anchor="middle" textLength="59.76" lengthAdjust="spacing" fill="#000" stroke="#000" stroke-width="0.12" >BANK 3</text>
<rect x="561.5" y="484.6" width="56.6" height="16.4" fill="#fff" stroke="#000" stroke-width="2" shape-rendering="geometricPrecision"/>
<text transform="translate(591,496.6) scale(0.82,1)" font-size="13" text-anchor="middle" textLength="59.76" lengthAdjust="spacing" fill="#000" stroke="#000" stroke-width="0.12" >BANK 2</text>
<rect x="561.5" y="501.6" width="56.6" height="16.4" fill="#fff" stroke="#000" stroke-width="2" shape-rendering="geometricPrecision"/>
<text transform="translate(591,513.6) scale(0.82,1)" font-size="13" text-anchor="middle" textLength="59.76" lengthAdjust="spacing" fill="#000" stroke="#000" stroke-width="0.12" >BANK 1</text>
<rect x="561.5" y="518.6" width="56.6" height="16.4" fill="#fff" stroke="#000" stroke-width="2" shape-rendering="geometricPrecision"/>
<text transform="translate(591,530.6) scale(0.82,1)" font-size="13" text-anchor="middle" textLength="59.76" lengthAdjust="spacing" fill="#000" stroke="#000" stroke-width="0.12" >BANK 0</text>
<rect x="643" y="457.8" width="31.600000000000023" height="15.699999999999989" fill="#fff" stroke="#000" stroke-width="1.7" rx="3" shape-rendering="geometricPrecision"/>
<polygon points="654.05,457.8 656.3019771132086,441.5716699753443 658.8980228867914,441.4283300246557 662.95,457.8" fill="#000" shape-rendering="geometricPrecision"/>
<polygon points="655.6712876505826,459.99665411610846 655.55,457.8 658.095,450.46500000000003 661.45,457.8 661.5712876505827,459.99665411610846" fill="#fff" shape-rendering="geometricPrecision"/>
<text transform="translate(658.1499999999999,470.33) scale(0.82,1)" font-size="13" text-anchor="middle" textLength="30.61" lengthAdjust="spacing" fill="#000" stroke="#000" stroke-width="0.12" >CN3</text>
<rect x="735" y="428" width="24" height="112.3" fill="#000" />
<rect x="736.3" y="429" width="21.7" height="110.3" fill="#fff" />
<rect x="751.8" y="428" width="1.1" height="112" fill="#000" />
<rect x="738.8" y="428.5" width="4" height="2.6" fill="#fff" stroke="#000" stroke-width="1" />
<rect x="739.3" y="428.5" width="1.8" height="1.6" fill="#000" />
<rect x="738.8" y="537.2" width="4" height="2.6" fill="#fff" stroke="#000" stroke-width="1" />
<rect x="738.8" y="434.9" width="5.6" height="5.6" fill="#fff" stroke="#000" stroke-width="1.1" />
<rect x="738.8" y="443.9" width="5.6" height="5.6" fill="#fff" stroke="#000" stroke-width="1.1" />
<rect x="738.8" y="453.4" width="5.6" height="5.6" fill="#fff" stroke="#000" stroke-width="1.1" />
<rect x="738.8" y="462.9" width="5.6" height="5.6" fill="#fff" stroke="#000" stroke-width="1.1" />
<rect x="738.8" y="472.4" width="5.6" height="5.6" fill="#fff" stroke="#000" stroke-width="1.1" />
<rect x="738.8" y="481.9" width="5.6" height="5.6" fill="#fff" stroke="#000" stroke-width="1.1" />
<rect x="738.8" y="491.4" width="5.6" height="5.6" fill="#fff" stroke="#000" stroke-width="1.1" />
<rect x="738.8" y="500.4" width="5.6" height="5.6" fill="#fff" stroke="#000" stroke-width="1.1" />
<rect x="738.8" y="509.9" width="5.6" height="5.6" fill="#fff" stroke="#000" stroke-width="1.1" />
<rect x="738.8" y="519.4" width="5.6" height="5.6" fill="#fff" stroke="#000" stroke-width="1.1" />
<rect x="738.8" y="528.9" width="5.6" height="5.6" fill="#fff" stroke="#000" stroke-width="1.1" />
<rect x="746.1" y="430.0" width="2.6" height="6.3" fill="#000" />
<path d="M752.3,430.0 H754 L756.1,431.8 V434.4 L754,436.3 H752.3 Z" fill="#000" shape-rendering="geometricPrecision"/>
<rect x="746.1" y="439.5" width="2.6" height="6.3" fill="#000" />
<path d="M752.3,439.5 H754 L756.1,441.3 V443.9 L754,445.8 H752.3 Z" fill="#000" shape-rendering="geometricPrecision"/>
<rect x="746.1" y="449.0" width="2.6" height="6.3" fill="#000" />
<path d="M752.3,449.0 H754 L756.1,450.8 V453.4 L754,455.3 H752.3 Z" fill="#000" shape-rendering="geometricPrecision"/>
<rect x="746.1" y="458.5" width="2.6" height="6.3" fill="#000" />
<path d="M752.3,458.5 H754 L756.1,460.3 V462.9 L754,464.8 H752.3 Z" fill="#000" shape-rendering="geometricPrecision"/>
<rect x="746.1" y="467.5" width="2.6" height="6.3" fill="#000" />
<path d="M752.3,467.5 H754 L756.1,469.3 V471.9 L754,473.8 H752.3 Z" fill="#000" shape-rendering="geometricPrecision"/>
<rect x="746.1" y="477.0" width="2.6" height="6.3" fill="#000" />
<path d="M752.3,477.0 H754 L756.1,478.8 V481.4 L754,483.3 H752.3 Z" fill="#000" shape-rendering="geometricPrecision"/>
<rect x="746.1" y="486.5" width="2.6" height="6.3" fill="#000" />
<path d="M752.3,486.5 H754 L756.1,488.3 V490.9 L754,492.8 H752.3 Z" fill="#000" shape-rendering="geometricPrecision"/>
<rect x="746.1" y="496.0" width="2.6" height="6.3" fill="#000" />
<path d="M752.3,496.0 H754 L756.1,497.8 V500.4 L754,502.3 H752.3 Z" fill="#000" shape-rendering="geometricPrecision"/>
<rect x="746.1" y="505.5" width="2.6" height="6.3" fill="#000" />
<path d="M752.3,505.5 H754 L756.1,507.3 V509.9 L754,511.8 H752.3 Z" fill="#000" shape-rendering="geometricPrecision"/>
<rect x="746.1" y="515.0" width="2.6" height="6.3" fill="#000" />
<path d="M752.3,515.0 H754 L756.1,516.8 V519.4 L754,521.3 H752.3 Z" fill="#000" shape-rendering="geometricPrecision"/>
<rect x="746.1" y="524.0" width="2.6" height="6.3" fill="#000" />
<path d="M752.3,524.0 H754 L756.1,525.8 V528.4 L754,530.3 H752.3 Z" fill="#000" shape-rendering="geometricPrecision"/>
<rect x="746.1" y="533.5" width="2.6" height="5.5" fill="#000" />
<path d="M752.3,533.5 H754 L756.1,535.3 V537.9 L754,539.0 H752.3 Z" fill="#000" shape-rendering="geometricPrecision"/>
<rect x="779.5" y="425.5" width="38.5" height="39" fill="#fff" stroke="#000" stroke-width="1" />
<rect x="812" y="426" width="6" height="38.5" fill="#000" />
<rect x="778.0" y="434.40000000000003" width="41.0" height="16.399999999999977" fill="#000" stroke="#000" stroke-width="1.7" rx="2" shape-rendering="geometricPrecision"/>
<rect x="778.5" y="435.8" width="41.0" height="16.399999999999977" fill="#fff" stroke="#000" stroke-width="1.7" rx="2" shape-rendering="geometricPrecision"/>
<text transform="translate(799.0,448.68) scale(0.82,1)" font-size="13" text-anchor="middle" textLength="40.98" lengthAdjust="spacing" fill="#000" stroke="#000" stroke-width="0.12" >PSM1</text>
<polygon points="788.2,479.7 808.5,479.7 808.5,477.5 812,477.5 812,475.3 815,475.3 815,472.5 816.5,472.5 816.5,468 818.5,468 818.5,524 815.3,524 815.3,522 812,522 812,516.8 788.2,516.8 788.2,510.8 785.3,510.8 785.3,486.2 788.2,486.2" fill="#000" />
<rect x="781.5" y="489.5" width="4.5" height="7.5" fill="#fff" stroke="#000" stroke-width="1" />
<rect x="781.5" y="500.5" width="4.5" height="7.7" fill="#fff" stroke="#000" stroke-width="1" />
<rect x="787" y="495.5" width="1" height="5.5" fill="#fff" />
<rect x="766" y="489.2" width="7" height="30.2" fill="#000" />
<rect x="767.2" y="495.2" width="4.6" height="1" fill="#fff" />
<rect x="767.2" y="500.8" width="4.6" height="1" fill="#fff" />
<rect x="767.2" y="506.5" width="4.6" height="1" fill="#fff" />
<rect x="767.5" y="514" width="4" height="4" fill="#fff" stroke="#000" stroke-width="0.9" />
<rect x="779.9" y="529.0999999999999" width="40.39999999999998" height="16.40000000000009" fill="#000" stroke="#000" stroke-width="1.7" rx="2" shape-rendering="geometricPrecision"/>
<rect x="780.4" y="527.8" width="40.39999999999998" height="16.40000000000009" fill="#fff" stroke="#000" stroke-width="1.7" rx="2" shape-rendering="geometricPrecision"/>
<polygon points="779.8999038553976,534.0589309851438 770.6347356775035,519.8964301431084 772.9652643224964,517.7035698568915 786.0000961446024,527.2410690148562" fill="#000" shape-rendering="geometricPrecision"/>
<polygon points="782.4076875913765,534.5433074582888 780.9000961446023,532.9410690148562 779.605,527.095 784.9999038553976,528.3589309851437 786.5074953021718,529.9611694285763" fill="#fff" shape-rendering="geometricPrecision"/>
<text transform="translate(801.8,540.68) scale(0.82,1)" font-size="13" text-anchor="middle" textLength="43.17" lengthAdjust="spacing" fill="#000" stroke="#000" stroke-width="0.12" >PSM2</text>
</svg>
</body></html>
